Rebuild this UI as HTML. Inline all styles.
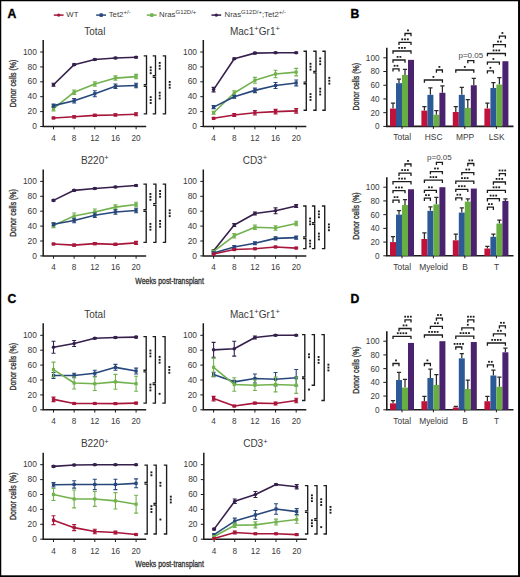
<!DOCTYPE html><html><head><meta charset="utf-8"><style>html,body{margin:0;padding:0;background:#fff;}svg{display:block;}</style></head><body>
<svg width="520" height="577" viewBox="0 0 520 577" font-family='"Liberation Sans", sans-serif' fill="#3a3a3a">
<rect x="0" y="0" width="520" height="577" fill="#fff"/>
<text x="7.40" y="17.80" font-size="12.2" text-anchor="start" font-weight="bold" fill="#000" stroke="#000" stroke-width="0.35">A</text>
<text x="350.60" y="17.80" font-size="12.2" text-anchor="start" font-weight="bold" fill="#000" stroke="#000" stroke-width="0.35">B</text>
<text x="7.40" y="302.60" font-size="12.2" text-anchor="start" font-weight="bold" fill="#000" stroke="#000" stroke-width="0.35">C</text>
<text x="350.60" y="302.60" font-size="12.2" text-anchor="start" font-weight="bold" fill="#000" stroke="#000" stroke-width="0.35">D</text>
<line x1="53.80" y1="15.1" x2="63.60" y2="15.1" stroke="#a8173b" stroke-width="1.5"/>
<circle cx="58.70" cy="15.1" r="1.7" fill="#a8173b"/>
<line x1="96.20" y1="15.1" x2="106.00" y2="15.1" stroke="#27477c" stroke-width="1.5"/>
<rect x="99.60" y="13.3" width="3.2" height="3.6" fill="#27477c"/>
<line x1="146.80" y1="15.1" x2="156.60" y2="15.1" stroke="#72b24e" stroke-width="1.5"/>
<rect x="150.20" y="13.3" width="3.2" height="3.6" fill="#72b24e"/>
<line x1="211.40" y1="15.1" x2="221.20" y2="15.1" stroke="#35204c" stroke-width="1.5"/>
<circle cx="216.30" cy="15.1" r="1.7" fill="#35204c"/>
<text x="66.30" y="17.4" font-size="7.8">WT</text>
<text x="108.70" y="17.4" font-size="7.8">Tet2<tspan font-size="6.0" dy="-3.2">+/-</tspan></text>
<text x="159.00" y="17.4" font-size="7.8">Nras<tspan font-size="6.0" dy="-3.2">G12D/+</tspan></text>
<text x="224.60" y="17.4" font-size="7.8">Nras<tspan font-size="6.0" dy="-3.2">G12D/+</tspan><tspan dy="3.2">;Tet2</tspan><tspan font-size="6.0" dy="-3.2">+/-</tspan></text>
<text x="94.80" y="34.70" font-size="10" text-anchor="middle">Total</text>
<path d="M43.20,40.00V126.50H146.20" fill="none" stroke="#1c1c1c" stroke-width="1.5"/>
<line x1="40.20" y1="126.50" x2="43.20" y2="126.50" stroke="#1c1c1c" stroke-width="1"/>
<text x="36.90" y="129.10" font-size="8.4" text-anchor="end" fill="#3a3a3a">0</text>
<line x1="40.20" y1="111.60" x2="43.20" y2="111.60" stroke="#1c1c1c" stroke-width="1"/>
<text x="36.90" y="114.20" font-size="8.4" text-anchor="end" fill="#3a3a3a">20</text>
<line x1="40.20" y1="96.70" x2="43.20" y2="96.70" stroke="#1c1c1c" stroke-width="1"/>
<text x="36.90" y="99.30" font-size="8.4" text-anchor="end" fill="#3a3a3a">40</text>
<line x1="40.20" y1="81.80" x2="43.20" y2="81.80" stroke="#1c1c1c" stroke-width="1"/>
<text x="36.90" y="84.40" font-size="8.4" text-anchor="end" fill="#3a3a3a">60</text>
<line x1="40.20" y1="66.90" x2="43.20" y2="66.90" stroke="#1c1c1c" stroke-width="1"/>
<text x="36.90" y="69.50" font-size="8.4" text-anchor="end" fill="#3a3a3a">80</text>
<line x1="40.20" y1="52.00" x2="43.20" y2="52.00" stroke="#1c1c1c" stroke-width="1"/>
<text x="36.90" y="54.60" font-size="8.4" text-anchor="end" fill="#3a3a3a">100</text>
<line x1="53.50" y1="126.50" x2="53.50" y2="129.30" stroke="#1c1c1c" stroke-width="1"/>
<text x="53.50" y="140.80" font-size="8.2" text-anchor="middle" fill="#3a3a3a">4</text>
<line x1="74.15" y1="126.50" x2="74.15" y2="129.30" stroke="#1c1c1c" stroke-width="1"/>
<text x="74.15" y="140.80" font-size="8.2" text-anchor="middle" fill="#3a3a3a">8</text>
<line x1="94.80" y1="126.50" x2="94.80" y2="129.30" stroke="#1c1c1c" stroke-width="1"/>
<text x="94.80" y="140.80" font-size="8.2" text-anchor="middle" fill="#3a3a3a">12</text>
<line x1="115.45" y1="126.50" x2="115.45" y2="129.30" stroke="#1c1c1c" stroke-width="1"/>
<text x="115.45" y="140.80" font-size="8.2" text-anchor="middle" fill="#3a3a3a">16</text>
<line x1="136.10" y1="126.50" x2="136.10" y2="129.30" stroke="#1c1c1c" stroke-width="1"/>
<text x="136.10" y="140.80" font-size="8.2" text-anchor="middle" fill="#3a3a3a">20</text>
<text transform="translate(15.60,83.50) rotate(-90)" font-size="8.8" text-anchor="middle" textLength="47.5" lengthAdjust="spacingAndGlyphs" fill="#333" stroke="#333" stroke-width="0.35">Donor cells (%)</text>
<polyline points="53.50,84.78 74.15,64.66 94.80,59.45 115.45,57.96 136.10,57.22" fill="none" stroke="#35204c" stroke-width="1.6" stroke-linejoin="round"/>
<path d="M53.50,83.29V86.27M51.50,83.29H55.50M51.50,86.27H55.50" stroke="#35204c" stroke-width="1.1" fill="none"/>
<circle cx="53.50" cy="84.78" r="1.8" fill="#35204c"/>
<path d="M74.15,63.92V65.41M72.15,63.92H76.15M72.15,65.41H76.15" stroke="#35204c" stroke-width="1.1" fill="none"/>
<circle cx="74.15" cy="64.66" r="1.8" fill="#35204c"/>
<path d="M94.80,58.71V60.20M92.80,58.71H96.80M92.80,60.20H96.80" stroke="#35204c" stroke-width="1.1" fill="none"/>
<circle cx="94.80" cy="59.45" r="1.8" fill="#35204c"/>
<path d="M115.45,57.21V58.70M113.45,57.21H117.45M113.45,58.70H117.45" stroke="#35204c" stroke-width="1.1" fill="none"/>
<circle cx="115.45" cy="57.96" r="1.8" fill="#35204c"/>
<path d="M136.10,56.47V57.96M134.10,56.47H138.10M134.10,57.96H138.10" stroke="#35204c" stroke-width="1.1" fill="none"/>
<circle cx="136.10" cy="57.22" r="1.8" fill="#35204c"/>
<polyline points="53.50,108.62 74.15,92.23 94.80,84.03 115.45,78.08 136.10,76.59" fill="none" stroke="#72b24e" stroke-width="1.6" stroke-linejoin="round"/>
<path d="M53.50,106.39V110.86M51.50,106.39H55.50M51.50,110.86H55.50" stroke="#72b24e" stroke-width="1.1" fill="none"/>
<rect x="51.90" y="107.02" width="3.2" height="3.2" fill="#72b24e"/>
<path d="M74.15,89.99V94.46M72.15,89.99H76.15M72.15,94.46H76.15" stroke="#72b24e" stroke-width="1.1" fill="none"/>
<rect x="72.55" y="90.63" width="3.2" height="3.2" fill="#72b24e"/>
<path d="M94.80,81.80V86.27M92.80,81.80H96.80M92.80,86.27H96.80" stroke="#72b24e" stroke-width="1.1" fill="none"/>
<rect x="93.20" y="82.44" width="3.2" height="3.2" fill="#72b24e"/>
<path d="M115.45,75.84V80.31M113.45,75.84H117.45M113.45,80.31H117.45" stroke="#72b24e" stroke-width="1.1" fill="none"/>
<rect x="113.85" y="76.48" width="3.2" height="3.2" fill="#72b24e"/>
<path d="M136.10,74.35V78.82M134.10,74.35H138.10M134.10,78.82H138.10" stroke="#72b24e" stroke-width="1.1" fill="none"/>
<rect x="134.50" y="74.99" width="3.2" height="3.2" fill="#72b24e"/>
<polyline points="53.50,105.64 74.15,100.80 94.80,93.72 115.45,86.27 136.10,85.53" fill="none" stroke="#27477c" stroke-width="1.6" stroke-linejoin="round"/>
<path d="M53.50,104.15V107.13M51.50,104.15H55.50M51.50,107.13H55.50" stroke="#27477c" stroke-width="1.1" fill="none"/>
<rect x="51.90" y="104.04" width="3.2" height="3.2" fill="#27477c"/>
<path d="M74.15,98.56V103.03M72.15,98.56H76.15M72.15,103.03H76.15" stroke="#27477c" stroke-width="1.1" fill="none"/>
<rect x="72.55" y="99.20" width="3.2" height="3.2" fill="#27477c"/>
<path d="M94.80,90.74V96.70M92.80,90.74H96.80M92.80,96.70H96.80" stroke="#27477c" stroke-width="1.1" fill="none"/>
<rect x="93.20" y="92.12" width="3.2" height="3.2" fill="#27477c"/>
<path d="M115.45,84.04V88.51M113.45,84.04H117.45M113.45,88.51H117.45" stroke="#27477c" stroke-width="1.1" fill="none"/>
<rect x="113.85" y="84.67" width="3.2" height="3.2" fill="#27477c"/>
<path d="M136.10,83.29V87.76M134.10,83.29H138.10M134.10,87.76H138.10" stroke="#27477c" stroke-width="1.1" fill="none"/>
<rect x="134.50" y="83.93" width="3.2" height="3.2" fill="#27477c"/>
<polyline points="53.50,117.93 74.15,116.81 94.80,115.33 115.45,114.95 136.10,114.21" fill="none" stroke="#a8173b" stroke-width="1.6" stroke-linejoin="round"/>
<path d="M53.50,117.19V118.68M51.50,117.19H55.50M51.50,118.68H55.50" stroke="#a8173b" stroke-width="1.1" fill="none"/>
<rect x="51.90" y="116.33" width="3.2" height="3.2" fill="#a8173b"/>
<path d="M74.15,115.70V117.93M72.15,115.70H76.15M72.15,117.93H76.15" stroke="#a8173b" stroke-width="1.1" fill="none"/>
<rect x="72.55" y="115.22" width="3.2" height="3.2" fill="#a8173b"/>
<path d="M94.80,114.21V116.44M92.80,114.21H96.80M92.80,116.44H96.80" stroke="#a8173b" stroke-width="1.1" fill="none"/>
<rect x="93.20" y="113.73" width="3.2" height="3.2" fill="#a8173b"/>
<path d="M115.45,113.83V116.07M113.45,113.83H117.45M113.45,116.07H117.45" stroke="#a8173b" stroke-width="1.1" fill="none"/>
<rect x="113.85" y="113.35" width="3.2" height="3.2" fill="#a8173b"/>
<path d="M136.10,112.72V115.70M134.10,112.72H138.10M134.10,115.70H138.10" stroke="#a8173b" stroke-width="1.1" fill="none"/>
<rect x="134.50" y="112.61" width="3.2" height="3.2" fill="#a8173b"/>
<path d="M143.70,55.82H146.50V84.73H143.70" fill="none" stroke="#1c1c1c" stroke-width="1.35"/>
<rect x="149.75" y="66.42" width="1.9" height="1.9" fill="#1c1c1c"/>
<rect x="149.75" y="69.32" width="1.9" height="1.9" fill="#1c1c1c"/>
<rect x="149.75" y="72.22" width="1.9" height="1.9" fill="#1c1c1c"/>
<path d="M143.70,86.33H146.50V113.81H143.70" fill="none" stroke="#1c1c1c" stroke-width="1.35"/>
<rect x="149.75" y="96.22" width="1.9" height="1.9" fill="#1c1c1c"/>
<rect x="149.75" y="99.12" width="1.9" height="1.9" fill="#1c1c1c"/>
<rect x="149.75" y="102.02" width="1.9" height="1.9" fill="#1c1c1c"/>
<path d="M152.70,55.82H155.50V75.79H152.70" fill="none" stroke="#1c1c1c" stroke-width="1.35"/>
<rect x="158.75" y="61.95" width="1.9" height="1.9" fill="#1c1c1c"/>
<rect x="158.75" y="64.85" width="1.9" height="1.9" fill="#1c1c1c"/>
<rect x="158.75" y="67.75" width="1.9" height="1.9" fill="#1c1c1c"/>
<path d="M152.70,77.39H155.50V113.81H152.70" fill="none" stroke="#1c1c1c" stroke-width="1.35"/>
<rect x="158.75" y="91.75" width="1.9" height="1.9" fill="#1c1c1c"/>
<rect x="158.75" y="94.65" width="1.9" height="1.9" fill="#1c1c1c"/>
<rect x="158.75" y="97.55" width="1.9" height="1.9" fill="#1c1c1c"/>
<path d="M162.70,55.82H165.50V113.81H162.70" fill="none" stroke="#1c1c1c" stroke-width="1.35"/>
<rect x="168.75" y="80.96" width="1.9" height="1.9" fill="#1c1c1c"/>
<rect x="168.75" y="83.86" width="1.9" height="1.9" fill="#1c1c1c"/>
<rect x="168.75" y="86.76" width="1.9" height="1.9" fill="#1c1c1c"/>
<text x="254.90" y="34.70" font-size="10" text-anchor="middle">Mac1<tspan font-size="7.6" dy="-3.7">+</tspan><tspan dy="3.7">Gr1</tspan><tspan font-size="7.6" dy="-3.7">+</tspan></text>
<path d="M203.30,40.00V126.50H306.30" fill="none" stroke="#1c1c1c" stroke-width="1.5"/>
<line x1="200.30" y1="126.50" x2="203.30" y2="126.50" stroke="#1c1c1c" stroke-width="1"/>
<text x="197.00" y="129.10" font-size="8.4" text-anchor="end" fill="#3a3a3a">0</text>
<line x1="200.30" y1="111.60" x2="203.30" y2="111.60" stroke="#1c1c1c" stroke-width="1"/>
<text x="197.00" y="114.20" font-size="8.4" text-anchor="end" fill="#3a3a3a">20</text>
<line x1="200.30" y1="96.70" x2="203.30" y2="96.70" stroke="#1c1c1c" stroke-width="1"/>
<text x="197.00" y="99.30" font-size="8.4" text-anchor="end" fill="#3a3a3a">40</text>
<line x1="200.30" y1="81.80" x2="203.30" y2="81.80" stroke="#1c1c1c" stroke-width="1"/>
<text x="197.00" y="84.40" font-size="8.4" text-anchor="end" fill="#3a3a3a">60</text>
<line x1="200.30" y1="66.90" x2="203.30" y2="66.90" stroke="#1c1c1c" stroke-width="1"/>
<text x="197.00" y="69.50" font-size="8.4" text-anchor="end" fill="#3a3a3a">80</text>
<line x1="200.30" y1="52.00" x2="203.30" y2="52.00" stroke="#1c1c1c" stroke-width="1"/>
<text x="197.00" y="54.60" font-size="8.4" text-anchor="end" fill="#3a3a3a">100</text>
<line x1="213.60" y1="126.50" x2="213.60" y2="129.30" stroke="#1c1c1c" stroke-width="1"/>
<text x="213.60" y="140.80" font-size="8.2" text-anchor="middle" fill="#3a3a3a">4</text>
<line x1="234.25" y1="126.50" x2="234.25" y2="129.30" stroke="#1c1c1c" stroke-width="1"/>
<text x="234.25" y="140.80" font-size="8.2" text-anchor="middle" fill="#3a3a3a">8</text>
<line x1="254.90" y1="126.50" x2="254.90" y2="129.30" stroke="#1c1c1c" stroke-width="1"/>
<text x="254.90" y="140.80" font-size="8.2" text-anchor="middle" fill="#3a3a3a">12</text>
<line x1="275.55" y1="126.50" x2="275.55" y2="129.30" stroke="#1c1c1c" stroke-width="1"/>
<text x="275.55" y="140.80" font-size="8.2" text-anchor="middle" fill="#3a3a3a">16</text>
<line x1="296.20" y1="126.50" x2="296.20" y2="129.30" stroke="#1c1c1c" stroke-width="1"/>
<text x="296.20" y="140.80" font-size="8.2" text-anchor="middle" fill="#3a3a3a">20</text>
<polyline points="213.60,89.62 234.25,58.70 254.90,53.12 275.55,52.75 296.20,52.75" fill="none" stroke="#35204c" stroke-width="1.6" stroke-linejoin="round"/>
<path d="M213.60,87.39V91.86M211.60,87.39H215.60M211.60,91.86H215.60" stroke="#35204c" stroke-width="1.1" fill="none"/>
<circle cx="213.60" cy="89.62" r="1.8" fill="#35204c"/>
<path d="M234.25,57.96V59.45M232.25,57.96H236.25M232.25,59.45H236.25" stroke="#35204c" stroke-width="1.1" fill="none"/>
<circle cx="234.25" cy="58.70" r="1.8" fill="#35204c"/>
<path d="M254.90,52.37V53.86M252.90,52.37H256.90M252.90,53.86H256.90" stroke="#35204c" stroke-width="1.1" fill="none"/>
<circle cx="254.90" cy="53.12" r="1.8" fill="#35204c"/>
<path d="M275.55,52.00V53.49M273.55,52.00H277.55M273.55,53.49H277.55" stroke="#35204c" stroke-width="1.1" fill="none"/>
<circle cx="275.55" cy="52.75" r="1.8" fill="#35204c"/>
<path d="M296.20,52.00V53.49M294.20,52.00H298.20M294.20,53.49H298.20" stroke="#35204c" stroke-width="1.1" fill="none"/>
<circle cx="296.20" cy="52.75" r="1.8" fill="#35204c"/>
<polyline points="213.60,112.72 234.25,92.97 254.90,80.31 275.55,73.98 296.20,72.12" fill="none" stroke="#72b24e" stroke-width="1.6" stroke-linejoin="round"/>
<path d="M213.60,111.23V114.21M211.60,111.23H215.60M211.60,114.21H215.60" stroke="#72b24e" stroke-width="1.1" fill="none"/>
<rect x="212.00" y="111.12" width="3.2" height="3.2" fill="#72b24e"/>
<path d="M234.25,90.74V95.21M232.25,90.74H236.25M232.25,95.21H236.25" stroke="#72b24e" stroke-width="1.1" fill="none"/>
<rect x="232.65" y="91.38" width="3.2" height="3.2" fill="#72b24e"/>
<path d="M254.90,77.33V83.29M252.90,77.33H256.90M252.90,83.29H256.90" stroke="#72b24e" stroke-width="1.1" fill="none"/>
<rect x="253.30" y="78.71" width="3.2" height="3.2" fill="#72b24e"/>
<path d="M275.55,70.25V77.70M273.55,70.25H277.55M273.55,77.70H277.55" stroke="#72b24e" stroke-width="1.1" fill="none"/>
<rect x="273.95" y="72.38" width="3.2" height="3.2" fill="#72b24e"/>
<path d="M296.20,68.39V75.84M294.20,68.39H298.20M294.20,75.84H298.20" stroke="#72b24e" stroke-width="1.1" fill="none"/>
<rect x="294.60" y="70.52" width="3.2" height="3.2" fill="#72b24e"/>
<polyline points="213.60,107.13 234.25,96.70 254.90,90.37 275.55,85.53 296.20,82.92" fill="none" stroke="#27477c" stroke-width="1.6" stroke-linejoin="round"/>
<path d="M213.60,105.64V108.62M211.60,105.64H215.60M211.60,108.62H215.60" stroke="#27477c" stroke-width="1.1" fill="none"/>
<rect x="212.00" y="105.53" width="3.2" height="3.2" fill="#27477c"/>
<path d="M234.25,95.21V98.19M232.25,95.21H236.25M232.25,98.19H236.25" stroke="#27477c" stroke-width="1.1" fill="none"/>
<rect x="232.65" y="95.10" width="3.2" height="3.2" fill="#27477c"/>
<path d="M254.90,88.13V92.60M252.90,88.13H256.90M252.90,92.60H256.90" stroke="#27477c" stroke-width="1.1" fill="none"/>
<rect x="253.30" y="88.77" width="3.2" height="3.2" fill="#27477c"/>
<path d="M275.55,82.55V88.51M273.55,82.55H277.55M273.55,88.51H277.55" stroke="#27477c" stroke-width="1.1" fill="none"/>
<rect x="273.95" y="83.93" width="3.2" height="3.2" fill="#27477c"/>
<path d="M296.20,79.94V85.90M294.20,79.94H298.20M294.20,85.90H298.20" stroke="#27477c" stroke-width="1.1" fill="none"/>
<rect x="294.60" y="81.32" width="3.2" height="3.2" fill="#27477c"/>
<polyline points="213.60,118.31 234.25,114.95 254.90,112.72 275.55,111.60 296.20,110.86" fill="none" stroke="#a8173b" stroke-width="1.6" stroke-linejoin="round"/>
<path d="M213.60,117.56V119.05M211.60,117.56H215.60M211.60,119.05H215.60" stroke="#a8173b" stroke-width="1.1" fill="none"/>
<rect x="212.00" y="116.71" width="3.2" height="3.2" fill="#a8173b"/>
<path d="M234.25,113.46V116.44M232.25,113.46H236.25M232.25,116.44H236.25" stroke="#a8173b" stroke-width="1.1" fill="none"/>
<rect x="232.65" y="113.35" width="3.2" height="3.2" fill="#a8173b"/>
<path d="M254.90,110.48V114.95M252.90,110.48H256.90M252.90,114.95H256.90" stroke="#a8173b" stroke-width="1.1" fill="none"/>
<rect x="253.30" y="111.12" width="3.2" height="3.2" fill="#a8173b"/>
<path d="M275.55,109.36V113.83M273.55,109.36H277.55M273.55,113.83H277.55" stroke="#a8173b" stroke-width="1.1" fill="none"/>
<rect x="273.95" y="110.00" width="3.2" height="3.2" fill="#a8173b"/>
<path d="M296.20,108.62V113.09M294.20,108.62H298.20M294.20,113.09H298.20" stroke="#a8173b" stroke-width="1.1" fill="none"/>
<rect x="294.60" y="109.26" width="3.2" height="3.2" fill="#a8173b"/>
<path d="M303.50,51.25H306.30V82.12H303.50" fill="none" stroke="#1c1c1c" stroke-width="1.35"/>
<rect x="309.55" y="62.83" width="1.9" height="1.9" fill="#1c1c1c"/>
<rect x="309.55" y="65.73" width="1.9" height="1.9" fill="#1c1c1c"/>
<rect x="309.55" y="68.63" width="1.9" height="1.9" fill="#1c1c1c"/>
<path d="M303.50,83.72H306.30V110.26H303.50" fill="none" stroke="#1c1c1c" stroke-width="1.35"/>
<rect x="309.55" y="93.14" width="1.9" height="1.9" fill="#1c1c1c"/>
<rect x="309.55" y="96.04" width="1.9" height="1.9" fill="#1c1c1c"/>
<rect x="309.55" y="98.94" width="1.9" height="1.9" fill="#1c1c1c"/>
<path d="M313.20,51.25H316.00V71.32H313.20" fill="none" stroke="#1c1c1c" stroke-width="1.35"/>
<rect x="319.25" y="57.43" width="1.9" height="1.9" fill="#1c1c1c"/>
<rect x="319.25" y="60.33" width="1.9" height="1.9" fill="#1c1c1c"/>
<rect x="319.25" y="63.23" width="1.9" height="1.9" fill="#1c1c1c"/>
<path d="M313.20,72.92H316.00V110.26H313.20" fill="none" stroke="#1c1c1c" stroke-width="1.35"/>
<rect x="319.25" y="87.73" width="1.9" height="1.9" fill="#1c1c1c"/>
<rect x="319.25" y="90.64" width="1.9" height="1.9" fill="#1c1c1c"/>
<rect x="319.25" y="93.53" width="1.9" height="1.9" fill="#1c1c1c"/>
<path d="M322.30,51.25H325.10V110.26H322.30" fill="none" stroke="#1c1c1c" stroke-width="1.35"/>
<rect x="328.35" y="76.90" width="1.9" height="1.9" fill="#1c1c1c"/>
<rect x="328.35" y="79.80" width="1.9" height="1.9" fill="#1c1c1c"/>
<rect x="328.35" y="82.70" width="1.9" height="1.9" fill="#1c1c1c"/>
<text x="94.80" y="164.10" font-size="10" text-anchor="middle">B220<tspan font-size="7.6" dy="-3.7">+</tspan></text>
<path d="M43.20,169.40V255.90H146.20" fill="none" stroke="#1c1c1c" stroke-width="1.5"/>
<line x1="40.20" y1="255.90" x2="43.20" y2="255.90" stroke="#1c1c1c" stroke-width="1"/>
<text x="36.90" y="258.50" font-size="8.4" text-anchor="end" fill="#3a3a3a">0</text>
<line x1="40.20" y1="241.00" x2="43.20" y2="241.00" stroke="#1c1c1c" stroke-width="1"/>
<text x="36.90" y="243.60" font-size="8.4" text-anchor="end" fill="#3a3a3a">20</text>
<line x1="40.20" y1="226.10" x2="43.20" y2="226.10" stroke="#1c1c1c" stroke-width="1"/>
<text x="36.90" y="228.70" font-size="8.4" text-anchor="end" fill="#3a3a3a">40</text>
<line x1="40.20" y1="211.20" x2="43.20" y2="211.20" stroke="#1c1c1c" stroke-width="1"/>
<text x="36.90" y="213.80" font-size="8.4" text-anchor="end" fill="#3a3a3a">60</text>
<line x1="40.20" y1="196.30" x2="43.20" y2="196.30" stroke="#1c1c1c" stroke-width="1"/>
<text x="36.90" y="198.90" font-size="8.4" text-anchor="end" fill="#3a3a3a">80</text>
<line x1="40.20" y1="181.40" x2="43.20" y2="181.40" stroke="#1c1c1c" stroke-width="1"/>
<text x="36.90" y="184.00" font-size="8.4" text-anchor="end" fill="#3a3a3a">100</text>
<line x1="53.50" y1="255.90" x2="53.50" y2="258.70" stroke="#1c1c1c" stroke-width="1"/>
<text x="53.50" y="270.20" font-size="8.2" text-anchor="middle" fill="#3a3a3a">4</text>
<line x1="74.15" y1="255.90" x2="74.15" y2="258.70" stroke="#1c1c1c" stroke-width="1"/>
<text x="74.15" y="270.20" font-size="8.2" text-anchor="middle" fill="#3a3a3a">8</text>
<line x1="94.80" y1="255.90" x2="94.80" y2="258.70" stroke="#1c1c1c" stroke-width="1"/>
<text x="94.80" y="270.20" font-size="8.2" text-anchor="middle" fill="#3a3a3a">12</text>
<line x1="115.45" y1="255.90" x2="115.45" y2="258.70" stroke="#1c1c1c" stroke-width="1"/>
<text x="115.45" y="270.20" font-size="8.2" text-anchor="middle" fill="#3a3a3a">16</text>
<line x1="136.10" y1="255.90" x2="136.10" y2="258.70" stroke="#1c1c1c" stroke-width="1"/>
<text x="136.10" y="270.20" font-size="8.2" text-anchor="middle" fill="#3a3a3a">20</text>
<text transform="translate(15.60,212.90) rotate(-90)" font-size="8.8" text-anchor="middle" textLength="47.5" lengthAdjust="spacingAndGlyphs" fill="#333" stroke="#333" stroke-width="0.35">Donor cells (%)</text>
<polyline points="53.50,200.40 74.15,190.34 94.80,188.48 115.45,186.99 136.10,185.50" fill="none" stroke="#35204c" stroke-width="1.6" stroke-linejoin="round"/>
<path d="M53.50,199.65V201.14M51.50,199.65H55.50M51.50,201.14H55.50" stroke="#35204c" stroke-width="1.1" fill="none"/>
<circle cx="53.50" cy="200.40" r="1.8" fill="#35204c"/>
<path d="M74.15,189.59V191.09M72.15,189.59H76.15M72.15,191.09H76.15" stroke="#35204c" stroke-width="1.1" fill="none"/>
<circle cx="74.15" cy="190.34" r="1.8" fill="#35204c"/>
<path d="M94.80,187.73V189.22M92.80,187.73H96.80M92.80,189.22H96.80" stroke="#35204c" stroke-width="1.1" fill="none"/>
<circle cx="94.80" cy="188.48" r="1.8" fill="#35204c"/>
<path d="M115.45,186.24V187.73M113.45,186.24H117.45M113.45,187.73H117.45" stroke="#35204c" stroke-width="1.1" fill="none"/>
<circle cx="115.45" cy="186.99" r="1.8" fill="#35204c"/>
<path d="M136.10,184.75V186.24M134.10,184.75H138.10M134.10,186.24H138.10" stroke="#35204c" stroke-width="1.1" fill="none"/>
<circle cx="136.10" cy="185.50" r="1.8" fill="#35204c"/>
<polyline points="53.50,225.36 74.15,216.04 94.80,211.94 115.45,207.10 136.10,204.50" fill="none" stroke="#72b24e" stroke-width="1.6" stroke-linejoin="round"/>
<path d="M53.50,223.12V227.59M51.50,223.12H55.50M51.50,227.59H55.50" stroke="#72b24e" stroke-width="1.1" fill="none"/>
<rect x="51.90" y="223.76" width="3.2" height="3.2" fill="#72b24e"/>
<path d="M74.15,213.06V219.02M72.15,213.06H76.15M72.15,219.02H76.15" stroke="#72b24e" stroke-width="1.1" fill="none"/>
<rect x="72.55" y="214.44" width="3.2" height="3.2" fill="#72b24e"/>
<path d="M94.80,208.97V214.92M92.80,208.97H96.80M92.80,214.92H96.80" stroke="#72b24e" stroke-width="1.1" fill="none"/>
<rect x="93.20" y="210.34" width="3.2" height="3.2" fill="#72b24e"/>
<path d="M115.45,204.87V209.34M113.45,204.87H117.45M113.45,209.34H117.45" stroke="#72b24e" stroke-width="1.1" fill="none"/>
<rect x="113.85" y="205.50" width="3.2" height="3.2" fill="#72b24e"/>
<path d="M136.10,202.26V206.73M134.10,202.26H138.10M134.10,206.73H138.10" stroke="#72b24e" stroke-width="1.1" fill="none"/>
<rect x="134.50" y="202.90" width="3.2" height="3.2" fill="#72b24e"/>
<polyline points="53.50,224.24 74.15,220.51 94.80,215.30 115.45,211.94 136.10,210.46" fill="none" stroke="#27477c" stroke-width="1.6" stroke-linejoin="round"/>
<path d="M53.50,222.75V225.73M51.50,222.75H55.50M51.50,225.73H55.50" stroke="#27477c" stroke-width="1.1" fill="none"/>
<rect x="51.90" y="222.64" width="3.2" height="3.2" fill="#27477c"/>
<path d="M74.15,218.28V222.75M72.15,218.28H76.15M72.15,222.75H76.15" stroke="#27477c" stroke-width="1.1" fill="none"/>
<rect x="72.55" y="218.91" width="3.2" height="3.2" fill="#27477c"/>
<path d="M94.80,213.06V217.53M92.80,213.06H96.80M92.80,217.53H96.80" stroke="#27477c" stroke-width="1.1" fill="none"/>
<rect x="93.20" y="213.70" width="3.2" height="3.2" fill="#27477c"/>
<path d="M115.45,209.71V214.18M113.45,209.71H117.45M113.45,214.18H117.45" stroke="#27477c" stroke-width="1.1" fill="none"/>
<rect x="113.85" y="210.34" width="3.2" height="3.2" fill="#27477c"/>
<path d="M136.10,208.22V212.69M134.10,208.22H138.10M134.10,212.69H138.10" stroke="#27477c" stroke-width="1.1" fill="none"/>
<rect x="134.50" y="208.86" width="3.2" height="3.2" fill="#27477c"/>
<polyline points="53.50,243.98 74.15,245.10 94.80,243.61 115.45,244.35 136.10,242.86" fill="none" stroke="#a8173b" stroke-width="1.6" stroke-linejoin="round"/>
<path d="M53.50,243.24V244.73M51.50,243.24H55.50M51.50,244.73H55.50" stroke="#a8173b" stroke-width="1.1" fill="none"/>
<rect x="51.90" y="242.38" width="3.2" height="3.2" fill="#a8173b"/>
<path d="M74.15,243.98V246.22M72.15,243.98H76.15M72.15,246.22H76.15" stroke="#a8173b" stroke-width="1.1" fill="none"/>
<rect x="72.55" y="243.50" width="3.2" height="3.2" fill="#a8173b"/>
<path d="M94.80,242.49V244.73M92.80,242.49H96.80M92.80,244.73H96.80" stroke="#a8173b" stroke-width="1.1" fill="none"/>
<rect x="93.20" y="242.01" width="3.2" height="3.2" fill="#a8173b"/>
<path d="M115.45,243.24V245.47M113.45,243.24H117.45M113.45,245.47H117.45" stroke="#a8173b" stroke-width="1.1" fill="none"/>
<rect x="113.85" y="242.75" width="3.2" height="3.2" fill="#a8173b"/>
<path d="M136.10,241.37V244.35M134.10,241.37H138.10M134.10,244.35H138.10" stroke="#a8173b" stroke-width="1.1" fill="none"/>
<rect x="134.50" y="241.26" width="3.2" height="3.2" fill="#a8173b"/>
<path d="M143.40,184.10H146.20V209.66H143.40" fill="none" stroke="#1c1c1c" stroke-width="1.35"/>
<rect x="149.45" y="193.03" width="1.9" height="1.9" fill="#1c1c1c"/>
<rect x="149.45" y="195.93" width="1.9" height="1.9" fill="#1c1c1c"/>
<rect x="149.45" y="198.83" width="1.9" height="1.9" fill="#1c1c1c"/>
<path d="M143.40,211.26H146.20V242.36H143.40" fill="none" stroke="#1c1c1c" stroke-width="1.35"/>
<rect x="149.45" y="222.96" width="1.9" height="1.9" fill="#1c1c1c"/>
<rect x="149.45" y="225.86" width="1.9" height="1.9" fill="#1c1c1c"/>
<rect x="149.45" y="228.76" width="1.9" height="1.9" fill="#1c1c1c"/>
<path d="M153.10,184.10H155.90V203.69H153.10" fill="none" stroke="#1c1c1c" stroke-width="1.35"/>
<rect x="159.15" y="190.05" width="1.9" height="1.9" fill="#1c1c1c"/>
<rect x="159.15" y="192.95" width="1.9" height="1.9" fill="#1c1c1c"/>
<rect x="159.15" y="195.85" width="1.9" height="1.9" fill="#1c1c1c"/>
<path d="M153.10,205.30H155.90V242.36H153.10" fill="none" stroke="#1c1c1c" stroke-width="1.35"/>
<rect x="159.15" y="219.98" width="1.9" height="1.9" fill="#1c1c1c"/>
<rect x="159.15" y="222.88" width="1.9" height="1.9" fill="#1c1c1c"/>
<rect x="159.15" y="225.78" width="1.9" height="1.9" fill="#1c1c1c"/>
<path d="M162.70,184.10H165.50V242.36H162.70" fill="none" stroke="#1c1c1c" stroke-width="1.35"/>
<rect x="168.75" y="209.38" width="1.9" height="1.9" fill="#1c1c1c"/>
<rect x="168.75" y="212.28" width="1.9" height="1.9" fill="#1c1c1c"/>
<rect x="168.75" y="215.18" width="1.9" height="1.9" fill="#1c1c1c"/>
<text x="254.90" y="164.10" font-size="10" text-anchor="middle">CD3<tspan font-size="7.6" dy="-3.7">+</tspan></text>
<path d="M203.30,169.40V255.90H306.30" fill="none" stroke="#1c1c1c" stroke-width="1.5"/>
<line x1="200.30" y1="255.90" x2="203.30" y2="255.90" stroke="#1c1c1c" stroke-width="1"/>
<text x="197.00" y="258.50" font-size="8.4" text-anchor="end" fill="#3a3a3a">0</text>
<line x1="200.30" y1="241.00" x2="203.30" y2="241.00" stroke="#1c1c1c" stroke-width="1"/>
<text x="197.00" y="243.60" font-size="8.4" text-anchor="end" fill="#3a3a3a">20</text>
<line x1="200.30" y1="226.10" x2="203.30" y2="226.10" stroke="#1c1c1c" stroke-width="1"/>
<text x="197.00" y="228.70" font-size="8.4" text-anchor="end" fill="#3a3a3a">40</text>
<line x1="200.30" y1="211.20" x2="203.30" y2="211.20" stroke="#1c1c1c" stroke-width="1"/>
<text x="197.00" y="213.80" font-size="8.4" text-anchor="end" fill="#3a3a3a">60</text>
<line x1="200.30" y1="196.30" x2="203.30" y2="196.30" stroke="#1c1c1c" stroke-width="1"/>
<text x="197.00" y="198.90" font-size="8.4" text-anchor="end" fill="#3a3a3a">80</text>
<line x1="200.30" y1="181.40" x2="203.30" y2="181.40" stroke="#1c1c1c" stroke-width="1"/>
<text x="197.00" y="184.00" font-size="8.4" text-anchor="end" fill="#3a3a3a">100</text>
<line x1="213.60" y1="255.90" x2="213.60" y2="258.70" stroke="#1c1c1c" stroke-width="1"/>
<text x="213.60" y="270.20" font-size="8.2" text-anchor="middle" fill="#3a3a3a">4</text>
<line x1="234.25" y1="255.90" x2="234.25" y2="258.70" stroke="#1c1c1c" stroke-width="1"/>
<text x="234.25" y="270.20" font-size="8.2" text-anchor="middle" fill="#3a3a3a">8</text>
<line x1="254.90" y1="255.90" x2="254.90" y2="258.70" stroke="#1c1c1c" stroke-width="1"/>
<text x="254.90" y="270.20" font-size="8.2" text-anchor="middle" fill="#3a3a3a">12</text>
<line x1="275.55" y1="255.90" x2="275.55" y2="258.70" stroke="#1c1c1c" stroke-width="1"/>
<text x="275.55" y="270.20" font-size="8.2" text-anchor="middle" fill="#3a3a3a">16</text>
<line x1="296.20" y1="255.90" x2="296.20" y2="258.70" stroke="#1c1c1c" stroke-width="1"/>
<text x="296.20" y="270.20" font-size="8.2" text-anchor="middle" fill="#3a3a3a">20</text>
<polyline points="213.60,250.69 234.25,224.98 254.90,213.44 275.55,210.83 296.20,205.99" fill="none" stroke="#35204c" stroke-width="1.6" stroke-linejoin="round"/>
<path d="M213.60,249.94V251.43M211.60,249.94H215.60M211.60,251.43H215.60" stroke="#35204c" stroke-width="1.1" fill="none"/>
<circle cx="213.60" cy="250.69" r="1.8" fill="#35204c"/>
<path d="M234.25,223.49V226.47M232.25,223.49H236.25M232.25,226.47H236.25" stroke="#35204c" stroke-width="1.1" fill="none"/>
<circle cx="234.25" cy="224.98" r="1.8" fill="#35204c"/>
<path d="M254.90,211.94V214.93M252.90,211.94H256.90M252.90,214.93H256.90" stroke="#35204c" stroke-width="1.1" fill="none"/>
<circle cx="254.90" cy="213.44" r="1.8" fill="#35204c"/>
<path d="M275.55,207.85V213.81M273.55,207.85H277.55M273.55,213.81H277.55" stroke="#35204c" stroke-width="1.1" fill="none"/>
<circle cx="275.55" cy="210.83" r="1.8" fill="#35204c"/>
<path d="M296.20,204.50V207.48M294.20,204.50H298.20M294.20,207.48H298.20" stroke="#35204c" stroke-width="1.1" fill="none"/>
<circle cx="296.20" cy="205.99" r="1.8" fill="#35204c"/>
<polyline points="213.60,251.43 234.25,235.78 254.90,227.22 275.55,227.96 296.20,223.49" fill="none" stroke="#72b24e" stroke-width="1.6" stroke-linejoin="round"/>
<path d="M213.60,250.69V252.18M211.60,250.69H215.60M211.60,252.18H215.60" stroke="#72b24e" stroke-width="1.1" fill="none"/>
<rect x="212.00" y="249.83" width="3.2" height="3.2" fill="#72b24e"/>
<path d="M234.25,233.55V238.02M232.25,233.55H236.25M232.25,238.02H236.25" stroke="#72b24e" stroke-width="1.1" fill="none"/>
<rect x="232.65" y="234.19" width="3.2" height="3.2" fill="#72b24e"/>
<path d="M254.90,224.98V229.45M252.90,224.98H256.90M252.90,229.45H256.90" stroke="#72b24e" stroke-width="1.1" fill="none"/>
<rect x="253.30" y="225.62" width="3.2" height="3.2" fill="#72b24e"/>
<path d="M275.55,225.73V230.20M273.55,225.73H277.55M273.55,230.20H277.55" stroke="#72b24e" stroke-width="1.1" fill="none"/>
<rect x="273.95" y="226.36" width="3.2" height="3.2" fill="#72b24e"/>
<path d="M296.20,221.26V225.73M294.20,221.26H298.20M294.20,225.73H298.20" stroke="#72b24e" stroke-width="1.1" fill="none"/>
<rect x="294.60" y="221.89" width="3.2" height="3.2" fill="#72b24e"/>
<polyline points="213.60,252.92 234.25,246.96 254.90,243.24 275.55,238.39 296.20,237.65" fill="none" stroke="#27477c" stroke-width="1.6" stroke-linejoin="round"/>
<path d="M213.60,252.18V253.67M211.60,252.18H215.60M211.60,253.67H215.60" stroke="#27477c" stroke-width="1.1" fill="none"/>
<rect x="212.00" y="251.32" width="3.2" height="3.2" fill="#27477c"/>
<path d="M234.25,245.47V248.45M232.25,245.47H236.25M232.25,248.45H236.25" stroke="#27477c" stroke-width="1.1" fill="none"/>
<rect x="232.65" y="245.36" width="3.2" height="3.2" fill="#27477c"/>
<path d="M254.90,241.75V244.73M252.90,241.75H256.90M252.90,244.73H256.90" stroke="#27477c" stroke-width="1.1" fill="none"/>
<rect x="253.30" y="241.64" width="3.2" height="3.2" fill="#27477c"/>
<path d="M275.55,236.90V239.88M273.55,236.90H277.55M273.55,239.88H277.55" stroke="#27477c" stroke-width="1.1" fill="none"/>
<rect x="273.95" y="236.79" width="3.2" height="3.2" fill="#27477c"/>
<path d="M296.20,236.16V239.14M294.20,236.16H298.20M294.20,239.14H298.20" stroke="#27477c" stroke-width="1.1" fill="none"/>
<rect x="294.60" y="236.05" width="3.2" height="3.2" fill="#27477c"/>
<polyline points="213.60,254.04 234.25,249.57 254.90,248.82 275.55,246.96 296.20,248.08" fill="none" stroke="#a8173b" stroke-width="1.6" stroke-linejoin="round"/>
<path d="M213.60,253.29V254.78M211.60,253.29H215.60M211.60,254.78H215.60" stroke="#a8173b" stroke-width="1.1" fill="none"/>
<rect x="212.00" y="252.44" width="3.2" height="3.2" fill="#a8173b"/>
<path d="M234.25,248.82V250.31M232.25,248.82H236.25M232.25,250.31H236.25" stroke="#a8173b" stroke-width="1.1" fill="none"/>
<rect x="232.65" y="247.97" width="3.2" height="3.2" fill="#a8173b"/>
<path d="M254.90,248.08V249.57M252.90,248.08H256.90M252.90,249.57H256.90" stroke="#a8173b" stroke-width="1.1" fill="none"/>
<rect x="253.30" y="247.22" width="3.2" height="3.2" fill="#a8173b"/>
<path d="M275.55,246.22V247.71M273.55,246.22H277.55M273.55,247.71H277.55" stroke="#a8173b" stroke-width="1.1" fill="none"/>
<rect x="273.95" y="245.36" width="3.2" height="3.2" fill="#a8173b"/>
<path d="M296.20,247.33V248.82M294.20,247.33H298.20M294.20,248.82H298.20" stroke="#a8173b" stroke-width="1.1" fill="none"/>
<rect x="294.60" y="246.48" width="3.2" height="3.2" fill="#a8173b"/>
<path d="M303.10,205.99H305.90V236.85H303.10" fill="none" stroke="#1c1c1c" stroke-width="1.35"/>
<rect x="309.15" y="217.57" width="1.9" height="1.9" fill="#1c1c1c"/>
<rect x="309.15" y="220.47" width="1.9" height="1.9" fill="#1c1c1c"/>
<rect x="309.15" y="223.37" width="1.9" height="1.9" fill="#1c1c1c"/>
<path d="M303.10,238.45H305.90V248.68H303.10" fill="none" stroke="#1c1c1c" stroke-width="1.35"/>
<rect x="309.15" y="239.71" width="1.9" height="1.9" fill="#1c1c1c"/>
<rect x="309.15" y="242.61" width="1.9" height="1.9" fill="#1c1c1c"/>
<rect x="309.15" y="245.51" width="1.9" height="1.9" fill="#1c1c1c"/>
<path d="M311.90,205.99H314.70V222.69H311.90" fill="none" stroke="#1c1c1c" stroke-width="1.35"/>
<rect x="317.95" y="210.49" width="1.9" height="1.9" fill="#1c1c1c"/>
<rect x="317.95" y="213.39" width="1.9" height="1.9" fill="#1c1c1c"/>
<rect x="317.95" y="216.29" width="1.9" height="1.9" fill="#1c1c1c"/>
<path d="M311.90,224.29H314.70V248.68H311.90" fill="none" stroke="#1c1c1c" stroke-width="1.35"/>
<rect x="317.95" y="232.64" width="1.9" height="1.9" fill="#1c1c1c"/>
<rect x="317.95" y="235.54" width="1.9" height="1.9" fill="#1c1c1c"/>
<rect x="317.95" y="238.44" width="1.9" height="1.9" fill="#1c1c1c"/>
<path d="M321.90,205.99H324.70V248.68H321.90" fill="none" stroke="#1c1c1c" stroke-width="1.35"/>
<rect x="327.95" y="223.48" width="1.9" height="1.9" fill="#1c1c1c"/>
<rect x="327.95" y="226.38" width="1.9" height="1.9" fill="#1c1c1c"/>
<rect x="327.95" y="229.28" width="1.9" height="1.9" fill="#1c1c1c"/>
<text x="169.6" y="283.8" font-size="9.6" fill="#333" stroke="#333" stroke-width="0.35" text-anchor="middle" textLength="68.5" lengthAdjust="spacingAndGlyphs">Weeks post-transplant</text>
<text x="94.80" y="318.00" font-size="10" text-anchor="middle">Total</text>
<path d="M43.20,323.30V409.80H146.20" fill="none" stroke="#1c1c1c" stroke-width="1.5"/>
<line x1="40.20" y1="409.80" x2="43.20" y2="409.80" stroke="#1c1c1c" stroke-width="1"/>
<text x="36.90" y="412.40" font-size="8.4" text-anchor="end" fill="#3a3a3a">0</text>
<line x1="40.20" y1="394.90" x2="43.20" y2="394.90" stroke="#1c1c1c" stroke-width="1"/>
<text x="36.90" y="397.50" font-size="8.4" text-anchor="end" fill="#3a3a3a">20</text>
<line x1="40.20" y1="380.00" x2="43.20" y2="380.00" stroke="#1c1c1c" stroke-width="1"/>
<text x="36.90" y="382.60" font-size="8.4" text-anchor="end" fill="#3a3a3a">40</text>
<line x1="40.20" y1="365.10" x2="43.20" y2="365.10" stroke="#1c1c1c" stroke-width="1"/>
<text x="36.90" y="367.70" font-size="8.4" text-anchor="end" fill="#3a3a3a">60</text>
<line x1="40.20" y1="350.20" x2="43.20" y2="350.20" stroke="#1c1c1c" stroke-width="1"/>
<text x="36.90" y="352.80" font-size="8.4" text-anchor="end" fill="#3a3a3a">80</text>
<line x1="40.20" y1="335.30" x2="43.20" y2="335.30" stroke="#1c1c1c" stroke-width="1"/>
<text x="36.90" y="337.90" font-size="8.4" text-anchor="end" fill="#3a3a3a">100</text>
<line x1="53.50" y1="409.80" x2="53.50" y2="412.60" stroke="#1c1c1c" stroke-width="1"/>
<text x="53.50" y="424.10" font-size="8.2" text-anchor="middle" fill="#3a3a3a">4</text>
<line x1="74.15" y1="409.80" x2="74.15" y2="412.60" stroke="#1c1c1c" stroke-width="1"/>
<text x="74.15" y="424.10" font-size="8.2" text-anchor="middle" fill="#3a3a3a">8</text>
<line x1="94.80" y1="409.80" x2="94.80" y2="412.60" stroke="#1c1c1c" stroke-width="1"/>
<text x="94.80" y="424.10" font-size="8.2" text-anchor="middle" fill="#3a3a3a">12</text>
<line x1="115.45" y1="409.80" x2="115.45" y2="412.60" stroke="#1c1c1c" stroke-width="1"/>
<text x="115.45" y="424.10" font-size="8.2" text-anchor="middle" fill="#3a3a3a">16</text>
<line x1="136.10" y1="409.80" x2="136.10" y2="412.60" stroke="#1c1c1c" stroke-width="1"/>
<text x="136.10" y="424.10" font-size="8.2" text-anchor="middle" fill="#3a3a3a">20</text>
<text transform="translate(15.60,366.80) rotate(-90)" font-size="8.8" text-anchor="middle" textLength="47.5" lengthAdjust="spacingAndGlyphs" fill="#333" stroke="#333" stroke-width="0.35">Donor cells (%)</text>
<polyline points="53.50,347.22 74.15,343.50 94.80,338.28 115.45,337.54 136.10,337.16" fill="none" stroke="#35204c" stroke-width="1.6" stroke-linejoin="round"/>
<path d="M53.50,341.26V353.18M51.50,341.26H55.50M51.50,353.18H55.50" stroke="#35204c" stroke-width="1.1" fill="none"/>
<circle cx="53.50" cy="347.22" r="1.8" fill="#35204c"/>
<path d="M74.15,340.51V346.48M72.15,340.51H76.15M72.15,346.48H76.15" stroke="#35204c" stroke-width="1.1" fill="none"/>
<circle cx="74.15" cy="343.50" r="1.8" fill="#35204c"/>
<path d="M94.80,337.54V339.03M92.80,337.54H96.80M92.80,339.03H96.80" stroke="#35204c" stroke-width="1.1" fill="none"/>
<circle cx="94.80" cy="338.28" r="1.8" fill="#35204c"/>
<path d="M115.45,336.79V338.28M113.45,336.79H117.45M113.45,338.28H117.45" stroke="#35204c" stroke-width="1.1" fill="none"/>
<circle cx="115.45" cy="337.54" r="1.8" fill="#35204c"/>
<path d="M136.10,336.42V337.91M134.10,336.42H138.10M134.10,337.91H138.10" stroke="#35204c" stroke-width="1.1" fill="none"/>
<circle cx="136.10" cy="337.16" r="1.8" fill="#35204c"/>
<polyline points="53.50,375.53 74.15,375.53 94.80,373.30 115.45,367.34 136.10,371.06" fill="none" stroke="#27477c" stroke-width="1.6" stroke-linejoin="round"/>
<path d="M53.50,372.55V378.51M51.50,372.55H55.50M51.50,378.51H55.50" stroke="#27477c" stroke-width="1.1" fill="none"/>
<rect x="51.90" y="373.93" width="3.2" height="3.2" fill="#27477c"/>
<path d="M74.15,373.30V377.77M72.15,373.30H76.15M72.15,377.77H76.15" stroke="#27477c" stroke-width="1.1" fill="none"/>
<rect x="72.55" y="373.93" width="3.2" height="3.2" fill="#27477c"/>
<path d="M94.80,370.31V376.28M92.80,370.31H96.80M92.80,376.28H96.80" stroke="#27477c" stroke-width="1.1" fill="none"/>
<rect x="93.20" y="371.69" width="3.2" height="3.2" fill="#27477c"/>
<path d="M115.45,364.36V370.32M113.45,364.36H117.45M113.45,370.32H117.45" stroke="#27477c" stroke-width="1.1" fill="none"/>
<rect x="113.85" y="365.74" width="3.2" height="3.2" fill="#27477c"/>
<path d="M136.10,368.08V374.04M134.10,368.08H138.10M134.10,374.04H138.10" stroke="#27477c" stroke-width="1.1" fill="none"/>
<rect x="134.50" y="369.46" width="3.2" height="3.2" fill="#27477c"/>
<polyline points="53.50,369.57 74.15,382.98 94.80,383.73 115.45,381.86 136.10,383.73" fill="none" stroke="#72b24e" stroke-width="1.6" stroke-linejoin="round"/>
<path d="M53.50,362.12V377.02M51.50,362.12H55.50M51.50,377.02H55.50" stroke="#72b24e" stroke-width="1.1" fill="none"/>
<rect x="51.90" y="367.97" width="3.2" height="3.2" fill="#72b24e"/>
<path d="M74.15,377.02V388.94M72.15,377.02H76.15M72.15,388.94H76.15" stroke="#72b24e" stroke-width="1.1" fill="none"/>
<rect x="72.55" y="381.38" width="3.2" height="3.2" fill="#72b24e"/>
<path d="M94.80,377.02V390.43M92.80,377.02H96.80M92.80,390.43H96.80" stroke="#72b24e" stroke-width="1.1" fill="none"/>
<rect x="93.20" y="382.12" width="3.2" height="3.2" fill="#72b24e"/>
<path d="M115.45,374.41V389.31M113.45,374.41H117.45M113.45,389.31H117.45" stroke="#72b24e" stroke-width="1.1" fill="none"/>
<rect x="113.85" y="380.26" width="3.2" height="3.2" fill="#72b24e"/>
<path d="M136.10,376.28V391.18M134.10,376.28H138.10M134.10,391.18H138.10" stroke="#72b24e" stroke-width="1.1" fill="none"/>
<rect x="134.50" y="382.12" width="3.2" height="3.2" fill="#72b24e"/>
<polyline points="53.50,399.37 74.15,403.47 94.80,403.47 115.45,403.62 136.10,403.10" fill="none" stroke="#a8173b" stroke-width="1.6" stroke-linejoin="round"/>
<path d="M53.50,397.13V401.61M51.50,397.13H55.50M51.50,401.61H55.50" stroke="#a8173b" stroke-width="1.1" fill="none"/>
<rect x="51.90" y="397.77" width="3.2" height="3.2" fill="#a8173b"/>
<path d="M74.15,402.72V404.21M72.15,402.72H76.15M72.15,404.21H76.15" stroke="#a8173b" stroke-width="1.1" fill="none"/>
<rect x="72.55" y="401.87" width="3.2" height="3.2" fill="#a8173b"/>
<path d="M94.80,402.72V404.21M92.80,402.72H96.80M92.80,404.21H96.80" stroke="#a8173b" stroke-width="1.1" fill="none"/>
<rect x="93.20" y="401.87" width="3.2" height="3.2" fill="#a8173b"/>
<path d="M115.45,402.87V404.36M113.45,402.87H117.45M113.45,404.36H117.45" stroke="#a8173b" stroke-width="1.1" fill="none"/>
<rect x="113.85" y="402.02" width="3.2" height="3.2" fill="#a8173b"/>
<path d="M136.10,402.35V403.84M134.10,402.35H138.10M134.10,403.84H138.10" stroke="#a8173b" stroke-width="1.1" fill="none"/>
<rect x="134.50" y="401.50" width="3.2" height="3.2" fill="#a8173b"/>
<path d="M143.40,336.66H146.20V370.26H143.40" fill="none" stroke="#1c1c1c" stroke-width="1.35"/>
<rect x="149.45" y="349.61" width="1.9" height="1.9" fill="#1c1c1c"/>
<rect x="149.45" y="352.51" width="1.9" height="1.9" fill="#1c1c1c"/>
<rect x="149.45" y="355.41" width="1.9" height="1.9" fill="#1c1c1c"/>
<path d="M143.40,371.86H146.20V403.10H143.40" fill="none" stroke="#1c1c1c" stroke-width="1.35"/>
<rect x="149.45" y="383.63" width="1.9" height="1.9" fill="#1c1c1c"/>
<rect x="149.45" y="386.53" width="1.9" height="1.9" fill="#1c1c1c"/>
<rect x="149.45" y="389.43" width="1.9" height="1.9" fill="#1c1c1c"/>
<path d="M152.60,336.66H155.40V382.93H152.60" fill="none" stroke="#1c1c1c" stroke-width="1.35"/>
<rect x="158.65" y="355.94" width="1.9" height="1.9" fill="#1c1c1c"/>
<rect x="158.65" y="358.84" width="1.9" height="1.9" fill="#1c1c1c"/>
<rect x="158.65" y="361.74" width="1.9" height="1.9" fill="#1c1c1c"/>
<path d="M152.60,384.53H155.40V403.10H152.60" fill="none" stroke="#1c1c1c" stroke-width="1.35"/>
<rect x="158.65" y="392.86" width="1.9" height="1.9" fill="#1c1c1c"/>
<path d="M162.30,336.66H165.10V403.10H162.30" fill="none" stroke="#1c1c1c" stroke-width="1.35"/>
<rect x="168.35" y="366.03" width="1.9" height="1.9" fill="#1c1c1c"/>
<rect x="168.35" y="368.93" width="1.9" height="1.9" fill="#1c1c1c"/>
<rect x="168.35" y="371.83" width="1.9" height="1.9" fill="#1c1c1c"/>
<text x="254.90" y="318.00" font-size="10" text-anchor="middle">Mac1<tspan font-size="7.6" dy="-3.7">+</tspan><tspan dy="3.7">Gr1</tspan><tspan font-size="7.6" dy="-3.7">+</tspan></text>
<path d="M203.30,323.30V409.80H306.30" fill="none" stroke="#1c1c1c" stroke-width="1.5"/>
<line x1="200.30" y1="409.80" x2="203.30" y2="409.80" stroke="#1c1c1c" stroke-width="1"/>
<text x="197.00" y="412.40" font-size="8.4" text-anchor="end" fill="#3a3a3a">0</text>
<line x1="200.30" y1="394.90" x2="203.30" y2="394.90" stroke="#1c1c1c" stroke-width="1"/>
<text x="197.00" y="397.50" font-size="8.4" text-anchor="end" fill="#3a3a3a">20</text>
<line x1="200.30" y1="380.00" x2="203.30" y2="380.00" stroke="#1c1c1c" stroke-width="1"/>
<text x="197.00" y="382.60" font-size="8.4" text-anchor="end" fill="#3a3a3a">40</text>
<line x1="200.30" y1="365.10" x2="203.30" y2="365.10" stroke="#1c1c1c" stroke-width="1"/>
<text x="197.00" y="367.70" font-size="8.4" text-anchor="end" fill="#3a3a3a">60</text>
<line x1="200.30" y1="350.20" x2="203.30" y2="350.20" stroke="#1c1c1c" stroke-width="1"/>
<text x="197.00" y="352.80" font-size="8.4" text-anchor="end" fill="#3a3a3a">80</text>
<line x1="200.30" y1="335.30" x2="203.30" y2="335.30" stroke="#1c1c1c" stroke-width="1"/>
<text x="197.00" y="337.90" font-size="8.4" text-anchor="end" fill="#3a3a3a">100</text>
<line x1="213.60" y1="409.80" x2="213.60" y2="412.60" stroke="#1c1c1c" stroke-width="1"/>
<text x="213.60" y="424.10" font-size="8.2" text-anchor="middle" fill="#3a3a3a">4</text>
<line x1="234.25" y1="409.80" x2="234.25" y2="412.60" stroke="#1c1c1c" stroke-width="1"/>
<text x="234.25" y="424.10" font-size="8.2" text-anchor="middle" fill="#3a3a3a">8</text>
<line x1="254.90" y1="409.80" x2="254.90" y2="412.60" stroke="#1c1c1c" stroke-width="1"/>
<text x="254.90" y="424.10" font-size="8.2" text-anchor="middle" fill="#3a3a3a">12</text>
<line x1="275.55" y1="409.80" x2="275.55" y2="412.60" stroke="#1c1c1c" stroke-width="1"/>
<text x="275.55" y="424.10" font-size="8.2" text-anchor="middle" fill="#3a3a3a">16</text>
<line x1="296.20" y1="409.80" x2="296.20" y2="412.60" stroke="#1c1c1c" stroke-width="1"/>
<text x="296.20" y="424.10" font-size="8.2" text-anchor="middle" fill="#3a3a3a">20</text>
<polyline points="213.60,349.83 234.25,348.71 254.90,337.54 275.55,335.30 296.20,335.30" fill="none" stroke="#35204c" stroke-width="1.6" stroke-linejoin="round"/>
<path d="M213.60,342.38V357.28M211.60,342.38H215.60M211.60,357.28H215.60" stroke="#35204c" stroke-width="1.1" fill="none"/>
<circle cx="213.60" cy="349.83" r="1.8" fill="#35204c"/>
<path d="M234.25,341.26V356.16M232.25,341.26H236.25M232.25,356.16H236.25" stroke="#35204c" stroke-width="1.1" fill="none"/>
<circle cx="234.25" cy="348.71" r="1.8" fill="#35204c"/>
<path d="M254.90,336.05V339.03M252.90,336.05H256.90M252.90,339.03H256.90" stroke="#35204c" stroke-width="1.1" fill="none"/>
<circle cx="254.90" cy="337.54" r="1.8" fill="#35204c"/>
<path d="M275.55,334.56V336.05M273.55,334.56H277.55M273.55,336.05H277.55" stroke="#35204c" stroke-width="1.1" fill="none"/>
<circle cx="275.55" cy="335.30" r="1.8" fill="#35204c"/>
<path d="M296.20,334.56V336.05M294.20,334.56H298.20M294.20,336.05H298.20" stroke="#35204c" stroke-width="1.1" fill="none"/>
<circle cx="296.20" cy="335.30" r="1.8" fill="#35204c"/>
<polyline points="213.60,374.41 234.25,381.86 254.90,378.51 275.55,379.25 296.20,377.76" fill="none" stroke="#27477c" stroke-width="1.6" stroke-linejoin="round"/>
<path d="M213.60,372.18V376.65M211.60,372.18H215.60M211.60,376.65H215.60" stroke="#27477c" stroke-width="1.1" fill="none"/>
<rect x="212.00" y="372.81" width="3.2" height="3.2" fill="#27477c"/>
<path d="M234.25,380.37V383.35M232.25,380.37H236.25M232.25,383.35H236.25" stroke="#27477c" stroke-width="1.1" fill="none"/>
<rect x="232.65" y="380.26" width="3.2" height="3.2" fill="#27477c"/>
<path d="M254.90,374.04V382.98M252.90,374.04H256.90M252.90,382.98H256.90" stroke="#27477c" stroke-width="1.1" fill="none"/>
<rect x="253.30" y="376.91" width="3.2" height="3.2" fill="#27477c"/>
<path d="M275.55,372.55V385.96M273.55,372.55H277.55M273.55,385.96H277.55" stroke="#27477c" stroke-width="1.1" fill="none"/>
<rect x="273.95" y="377.65" width="3.2" height="3.2" fill="#27477c"/>
<path d="M296.20,369.57V385.96M294.20,369.57H298.20M294.20,385.96H298.20" stroke="#27477c" stroke-width="1.1" fill="none"/>
<rect x="294.60" y="376.16" width="3.2" height="3.2" fill="#27477c"/>
<polyline points="213.60,367.34 234.25,384.47 254.90,385.22 275.55,384.47 296.20,385.22" fill="none" stroke="#72b24e" stroke-width="1.6" stroke-linejoin="round"/>
<path d="M213.60,358.40V376.28M211.60,358.40H215.60M211.60,376.28H215.60" stroke="#72b24e" stroke-width="1.1" fill="none"/>
<rect x="212.00" y="365.74" width="3.2" height="3.2" fill="#72b24e"/>
<path d="M234.25,377.77V391.18M232.25,377.77H236.25M232.25,391.18H236.25" stroke="#72b24e" stroke-width="1.1" fill="none"/>
<rect x="232.65" y="382.87" width="3.2" height="3.2" fill="#72b24e"/>
<path d="M254.90,380.00V390.43M252.90,380.00H256.90M252.90,390.43H256.90" stroke="#72b24e" stroke-width="1.1" fill="none"/>
<rect x="253.30" y="383.62" width="3.2" height="3.2" fill="#72b24e"/>
<path d="M275.55,377.02V391.92M273.55,377.02H277.55M273.55,391.92H277.55" stroke="#72b24e" stroke-width="1.1" fill="none"/>
<rect x="273.95" y="382.87" width="3.2" height="3.2" fill="#72b24e"/>
<path d="M296.20,377.02V393.41M294.20,377.02H298.20M294.20,393.41H298.20" stroke="#72b24e" stroke-width="1.1" fill="none"/>
<rect x="294.60" y="383.62" width="3.2" height="3.2" fill="#72b24e"/>
<polyline points="213.60,398.62 234.25,406.07 254.90,403.10 275.55,403.47 296.20,400.49" fill="none" stroke="#a8173b" stroke-width="1.6" stroke-linejoin="round"/>
<path d="M213.60,396.39V400.86M211.60,396.39H215.60M211.60,400.86H215.60" stroke="#a8173b" stroke-width="1.1" fill="none"/>
<rect x="212.00" y="397.02" width="3.2" height="3.2" fill="#a8173b"/>
<path d="M234.25,405.33V406.82M232.25,405.33H236.25M232.25,406.82H236.25" stroke="#a8173b" stroke-width="1.1" fill="none"/>
<rect x="232.65" y="404.47" width="3.2" height="3.2" fill="#a8173b"/>
<path d="M254.90,402.35V403.84M252.90,402.35H256.90M252.90,403.84H256.90" stroke="#a8173b" stroke-width="1.1" fill="none"/>
<rect x="253.30" y="401.50" width="3.2" height="3.2" fill="#a8173b"/>
<path d="M275.55,401.98V404.96M273.55,401.98H277.55M273.55,404.96H277.55" stroke="#a8173b" stroke-width="1.1" fill="none"/>
<rect x="273.95" y="401.87" width="3.2" height="3.2" fill="#a8173b"/>
<path d="M296.20,398.25V402.72M294.20,398.25H298.20M294.20,402.72H298.20" stroke="#a8173b" stroke-width="1.1" fill="none"/>
<rect x="294.60" y="398.89" width="3.2" height="3.2" fill="#a8173b"/>
<path d="M302.00,334.60H304.80V376.96H302.00" fill="none" stroke="#1c1c1c" stroke-width="1.35"/>
<rect x="308.05" y="353.38" width="1.9" height="1.9" fill="#1c1c1c"/>
<rect x="308.05" y="356.28" width="1.9" height="1.9" fill="#1c1c1c"/>
<path d="M302.00,378.56H304.80V400.49H302.00" fill="none" stroke="#1c1c1c" stroke-width="1.35"/>
<rect x="308.05" y="388.58" width="1.9" height="1.9" fill="#1c1c1c"/>
<path d="M311.60,334.60H314.40V385.22H311.60" fill="none" stroke="#1c1c1c" stroke-width="1.35"/>
<rect x="317.65" y="356.06" width="1.9" height="1.9" fill="#1c1c1c"/>
<rect x="317.65" y="358.96" width="1.9" height="1.9" fill="#1c1c1c"/>
<rect x="317.65" y="361.86" width="1.9" height="1.9" fill="#1c1c1c"/>
<path d="M321.40,334.60H324.20V400.49H321.40" fill="none" stroke="#1c1c1c" stroke-width="1.35"/>
<rect x="327.45" y="363.69" width="1.9" height="1.9" fill="#1c1c1c"/>
<rect x="327.45" y="366.59" width="1.9" height="1.9" fill="#1c1c1c"/>
<rect x="327.45" y="369.49" width="1.9" height="1.9" fill="#1c1c1c"/>
<text x="94.80" y="447.40" font-size="10" text-anchor="middle">B220<tspan font-size="7.6" dy="-3.7">+</tspan></text>
<path d="M43.20,452.70V539.20H146.20" fill="none" stroke="#1c1c1c" stroke-width="1.5"/>
<line x1="40.20" y1="539.20" x2="43.20" y2="539.20" stroke="#1c1c1c" stroke-width="1"/>
<text x="36.90" y="541.80" font-size="8.4" text-anchor="end" fill="#3a3a3a">0</text>
<line x1="40.20" y1="524.30" x2="43.20" y2="524.30" stroke="#1c1c1c" stroke-width="1"/>
<text x="36.90" y="526.90" font-size="8.4" text-anchor="end" fill="#3a3a3a">20</text>
<line x1="40.20" y1="509.40" x2="43.20" y2="509.40" stroke="#1c1c1c" stroke-width="1"/>
<text x="36.90" y="512.00" font-size="8.4" text-anchor="end" fill="#3a3a3a">40</text>
<line x1="40.20" y1="494.50" x2="43.20" y2="494.50" stroke="#1c1c1c" stroke-width="1"/>
<text x="36.90" y="497.10" font-size="8.4" text-anchor="end" fill="#3a3a3a">60</text>
<line x1="40.20" y1="479.60" x2="43.20" y2="479.60" stroke="#1c1c1c" stroke-width="1"/>
<text x="36.90" y="482.20" font-size="8.4" text-anchor="end" fill="#3a3a3a">80</text>
<line x1="40.20" y1="464.70" x2="43.20" y2="464.70" stroke="#1c1c1c" stroke-width="1"/>
<text x="36.90" y="467.30" font-size="8.4" text-anchor="end" fill="#3a3a3a">100</text>
<line x1="53.50" y1="539.20" x2="53.50" y2="542.00" stroke="#1c1c1c" stroke-width="1"/>
<text x="53.50" y="553.50" font-size="8.2" text-anchor="middle" fill="#3a3a3a">4</text>
<line x1="74.15" y1="539.20" x2="74.15" y2="542.00" stroke="#1c1c1c" stroke-width="1"/>
<text x="74.15" y="553.50" font-size="8.2" text-anchor="middle" fill="#3a3a3a">8</text>
<line x1="94.80" y1="539.20" x2="94.80" y2="542.00" stroke="#1c1c1c" stroke-width="1"/>
<text x="94.80" y="553.50" font-size="8.2" text-anchor="middle" fill="#3a3a3a">12</text>
<line x1="115.45" y1="539.20" x2="115.45" y2="542.00" stroke="#1c1c1c" stroke-width="1"/>
<text x="115.45" y="553.50" font-size="8.2" text-anchor="middle" fill="#3a3a3a">16</text>
<line x1="136.10" y1="539.20" x2="136.10" y2="542.00" stroke="#1c1c1c" stroke-width="1"/>
<text x="136.10" y="553.50" font-size="8.2" text-anchor="middle" fill="#3a3a3a">20</text>
<text transform="translate(15.60,496.20) rotate(-90)" font-size="8.8" text-anchor="middle" textLength="47.5" lengthAdjust="spacingAndGlyphs" fill="#333" stroke="#333" stroke-width="0.35">Donor cells (%)</text>
<polyline points="53.50,466.41 74.15,465.07 94.80,464.70 115.45,464.70 136.10,464.70" fill="none" stroke="#35204c" stroke-width="1.6" stroke-linejoin="round"/>
<path d="M53.50,465.67V467.16M51.50,465.67H55.50M51.50,467.16H55.50" stroke="#35204c" stroke-width="1.1" fill="none"/>
<circle cx="53.50" cy="466.41" r="1.8" fill="#35204c"/>
<path d="M74.15,464.33V465.82M72.15,464.33H76.15M72.15,465.82H76.15" stroke="#35204c" stroke-width="1.1" fill="none"/>
<circle cx="74.15" cy="465.07" r="1.8" fill="#35204c"/>
<path d="M94.80,463.96V465.45M92.80,463.96H96.80M92.80,465.45H96.80" stroke="#35204c" stroke-width="1.1" fill="none"/>
<circle cx="94.80" cy="464.70" r="1.8" fill="#35204c"/>
<path d="M115.45,463.96V465.45M113.45,463.96H117.45M113.45,465.45H117.45" stroke="#35204c" stroke-width="1.1" fill="none"/>
<circle cx="115.45" cy="464.70" r="1.8" fill="#35204c"/>
<path d="M136.10,463.96V465.45M134.10,463.96H138.10M134.10,465.45H138.10" stroke="#35204c" stroke-width="1.1" fill="none"/>
<circle cx="136.10" cy="464.70" r="1.8" fill="#35204c"/>
<polyline points="53.50,484.82 74.15,484.44 94.80,484.44 115.45,484.44 136.10,483.33" fill="none" stroke="#27477c" stroke-width="1.6" stroke-linejoin="round"/>
<path d="M53.50,482.58V487.05M51.50,482.58H55.50M51.50,487.05H55.50" stroke="#27477c" stroke-width="1.1" fill="none"/>
<rect x="51.90" y="483.22" width="3.2" height="3.2" fill="#27477c"/>
<path d="M74.15,480.72V488.17M72.15,480.72H76.15M72.15,488.17H76.15" stroke="#27477c" stroke-width="1.1" fill="none"/>
<rect x="72.55" y="482.84" width="3.2" height="3.2" fill="#27477c"/>
<path d="M94.80,479.23V489.66M92.80,479.23H96.80M92.80,489.66H96.80" stroke="#27477c" stroke-width="1.1" fill="none"/>
<rect x="93.20" y="482.84" width="3.2" height="3.2" fill="#27477c"/>
<path d="M115.45,479.23V489.66M113.45,479.23H117.45M113.45,489.66H117.45" stroke="#27477c" stroke-width="1.1" fill="none"/>
<rect x="113.85" y="482.84" width="3.2" height="3.2" fill="#27477c"/>
<path d="M136.10,478.86V487.80M134.10,478.86H138.10M134.10,487.80H138.10" stroke="#27477c" stroke-width="1.1" fill="none"/>
<rect x="134.50" y="481.73" width="3.2" height="3.2" fill="#27477c"/>
<polyline points="53.50,494.50 74.15,498.97 94.80,498.97 115.45,500.83 136.10,504.19" fill="none" stroke="#72b24e" stroke-width="1.6" stroke-linejoin="round"/>
<path d="M53.50,488.54V500.46M51.50,488.54H55.50M51.50,500.46H55.50" stroke="#72b24e" stroke-width="1.1" fill="none"/>
<rect x="51.90" y="492.90" width="3.2" height="3.2" fill="#72b24e"/>
<path d="M74.15,490.03V507.91M72.15,490.03H76.15M72.15,507.91H76.15" stroke="#72b24e" stroke-width="1.1" fill="none"/>
<rect x="72.55" y="497.37" width="3.2" height="3.2" fill="#72b24e"/>
<path d="M94.80,491.52V506.42M92.80,491.52H96.80M92.80,506.42H96.80" stroke="#72b24e" stroke-width="1.1" fill="none"/>
<rect x="93.20" y="497.37" width="3.2" height="3.2" fill="#72b24e"/>
<path d="M115.45,492.64V509.03M113.45,492.64H117.45M113.45,509.03H117.45" stroke="#72b24e" stroke-width="1.1" fill="none"/>
<rect x="113.85" y="499.23" width="3.2" height="3.2" fill="#72b24e"/>
<path d="M136.10,495.25V513.13M134.10,495.25H138.10M134.10,513.13H138.10" stroke="#72b24e" stroke-width="1.1" fill="none"/>
<rect x="134.50" y="502.59" width="3.2" height="3.2" fill="#72b24e"/>
<polyline points="53.50,520.20 74.15,527.65 94.80,531.45 115.45,532.57 136.10,534.51" fill="none" stroke="#a8173b" stroke-width="1.6" stroke-linejoin="round"/>
<path d="M53.50,515.73V524.67M51.50,515.73H55.50M51.50,524.67H55.50" stroke="#a8173b" stroke-width="1.1" fill="none"/>
<rect x="51.90" y="518.60" width="3.2" height="3.2" fill="#a8173b"/>
<path d="M74.15,524.67V530.63M72.15,524.67H76.15M72.15,530.63H76.15" stroke="#a8173b" stroke-width="1.1" fill="none"/>
<rect x="72.55" y="526.05" width="3.2" height="3.2" fill="#a8173b"/>
<path d="M94.80,529.22V533.69M92.80,529.22H96.80M92.80,533.69H96.80" stroke="#a8173b" stroke-width="1.1" fill="none"/>
<rect x="93.20" y="529.85" width="3.2" height="3.2" fill="#a8173b"/>
<path d="M115.45,531.08V534.06M113.45,531.08H117.45M113.45,534.06H117.45" stroke="#a8173b" stroke-width="1.1" fill="none"/>
<rect x="113.85" y="530.97" width="3.2" height="3.2" fill="#a8173b"/>
<path d="M136.10,533.76V535.25M134.10,533.76H138.10M134.10,535.25H138.10" stroke="#a8173b" stroke-width="1.1" fill="none"/>
<rect x="134.50" y="532.91" width="3.2" height="3.2" fill="#a8173b"/>
<path d="M144.40,465.10H147.20V482.53H144.40" fill="none" stroke="#1c1c1c" stroke-width="1.35"/>
<rect x="150.45" y="471.41" width="1.9" height="1.9" fill="#1c1c1c"/>
<rect x="150.45" y="474.31" width="1.9" height="1.9" fill="#1c1c1c"/>
<path d="M144.40,484.13H147.20V534.01H144.40" fill="none" stroke="#1c1c1c" stroke-width="1.35"/>
<rect x="150.45" y="505.22" width="1.9" height="1.9" fill="#1c1c1c"/>
<rect x="150.45" y="508.12" width="1.9" height="1.9" fill="#1c1c1c"/>
<rect x="150.45" y="511.02" width="1.9" height="1.9" fill="#1c1c1c"/>
<path d="M153.40,465.10H156.20V503.39H153.40" fill="none" stroke="#1c1c1c" stroke-width="1.35"/>
<rect x="159.45" y="481.84" width="1.9" height="1.9" fill="#1c1c1c"/>
<rect x="159.45" y="484.74" width="1.9" height="1.9" fill="#1c1c1c"/>
<path d="M153.40,504.99H156.20V534.01H153.40" fill="none" stroke="#1c1c1c" stroke-width="1.35"/>
<rect x="159.45" y="518.55" width="1.9" height="1.9" fill="#1c1c1c"/>
<path d="M163.80,465.10H166.60V534.01H163.80" fill="none" stroke="#1c1c1c" stroke-width="1.35"/>
<rect x="169.85" y="495.70" width="1.9" height="1.9" fill="#1c1c1c"/>
<rect x="169.85" y="498.60" width="1.9" height="1.9" fill="#1c1c1c"/>
<rect x="169.85" y="501.50" width="1.9" height="1.9" fill="#1c1c1c"/>
<text x="255.40" y="447.40" font-size="10" text-anchor="middle">CD3<tspan font-size="7.6" dy="-3.7">+</tspan></text>
<path d="M203.80,452.70V539.20H306.80" fill="none" stroke="#1c1c1c" stroke-width="1.5"/>
<line x1="200.80" y1="539.20" x2="203.80" y2="539.20" stroke="#1c1c1c" stroke-width="1"/>
<text x="197.50" y="541.80" font-size="8.4" text-anchor="end" fill="#3a3a3a">0</text>
<line x1="200.80" y1="524.30" x2="203.80" y2="524.30" stroke="#1c1c1c" stroke-width="1"/>
<text x="197.50" y="526.90" font-size="8.4" text-anchor="end" fill="#3a3a3a">20</text>
<line x1="200.80" y1="509.40" x2="203.80" y2="509.40" stroke="#1c1c1c" stroke-width="1"/>
<text x="197.50" y="512.00" font-size="8.4" text-anchor="end" fill="#3a3a3a">40</text>
<line x1="200.80" y1="494.50" x2="203.80" y2="494.50" stroke="#1c1c1c" stroke-width="1"/>
<text x="197.50" y="497.10" font-size="8.4" text-anchor="end" fill="#3a3a3a">60</text>
<line x1="200.80" y1="479.60" x2="203.80" y2="479.60" stroke="#1c1c1c" stroke-width="1"/>
<text x="197.50" y="482.20" font-size="8.4" text-anchor="end" fill="#3a3a3a">80</text>
<line x1="200.80" y1="464.70" x2="203.80" y2="464.70" stroke="#1c1c1c" stroke-width="1"/>
<text x="197.50" y="467.30" font-size="8.4" text-anchor="end" fill="#3a3a3a">100</text>
<line x1="214.10" y1="539.20" x2="214.10" y2="542.00" stroke="#1c1c1c" stroke-width="1"/>
<text x="214.10" y="553.50" font-size="8.2" text-anchor="middle" fill="#3a3a3a">4</text>
<line x1="234.75" y1="539.20" x2="234.75" y2="542.00" stroke="#1c1c1c" stroke-width="1"/>
<text x="234.75" y="553.50" font-size="8.2" text-anchor="middle" fill="#3a3a3a">8</text>
<line x1="255.40" y1="539.20" x2="255.40" y2="542.00" stroke="#1c1c1c" stroke-width="1"/>
<text x="255.40" y="553.50" font-size="8.2" text-anchor="middle" fill="#3a3a3a">12</text>
<line x1="276.05" y1="539.20" x2="276.05" y2="542.00" stroke="#1c1c1c" stroke-width="1"/>
<text x="276.05" y="553.50" font-size="8.2" text-anchor="middle" fill="#3a3a3a">16</text>
<line x1="296.70" y1="539.20" x2="296.70" y2="542.00" stroke="#1c1c1c" stroke-width="1"/>
<text x="296.70" y="553.50" font-size="8.2" text-anchor="middle" fill="#3a3a3a">20</text>
<polyline points="214.10,529.14 234.75,501.21 255.40,494.50 276.05,484.44 296.70,486.68" fill="none" stroke="#35204c" stroke-width="1.6" stroke-linejoin="round"/>
<path d="M214.10,528.40V529.89M212.10,528.40H216.10M212.10,529.89H216.10" stroke="#35204c" stroke-width="1.1" fill="none"/>
<circle cx="214.10" cy="529.14" r="1.8" fill="#35204c"/>
<path d="M234.75,498.97V503.44M232.75,498.97H236.75M232.75,503.44H236.75" stroke="#35204c" stroke-width="1.1" fill="none"/>
<circle cx="234.75" cy="501.21" r="1.8" fill="#35204c"/>
<path d="M255.40,491.52V497.48M253.40,491.52H257.40M253.40,497.48H257.40" stroke="#35204c" stroke-width="1.1" fill="none"/>
<circle cx="255.40" cy="494.50" r="1.8" fill="#35204c"/>
<path d="M276.05,483.70V485.19M274.05,483.70H278.05M274.05,485.19H278.05" stroke="#35204c" stroke-width="1.1" fill="none"/>
<circle cx="276.05" cy="484.44" r="1.8" fill="#35204c"/>
<path d="M296.70,484.44V488.91M294.70,484.44H298.70M294.70,488.91H298.70" stroke="#35204c" stroke-width="1.1" fill="none"/>
<circle cx="296.70" cy="486.68" r="1.8" fill="#35204c"/>
<polyline points="214.10,534.58 234.75,521.10 255.40,514.91 276.05,509.03 296.70,511.64" fill="none" stroke="#27477c" stroke-width="1.6" stroke-linejoin="round"/>
<path d="M214.10,533.84V535.33M212.10,533.84H216.10M212.10,535.33H216.10" stroke="#27477c" stroke-width="1.1" fill="none"/>
<rect x="212.50" y="532.98" width="3.2" height="3.2" fill="#27477c"/>
<path d="M234.75,518.12V524.08M232.75,518.12H236.75M232.75,524.08H236.75" stroke="#27477c" stroke-width="1.1" fill="none"/>
<rect x="233.15" y="519.50" width="3.2" height="3.2" fill="#27477c"/>
<path d="M255.40,510.44V519.38M253.40,510.44H257.40M253.40,519.38H257.40" stroke="#27477c" stroke-width="1.1" fill="none"/>
<rect x="253.80" y="513.31" width="3.2" height="3.2" fill="#27477c"/>
<path d="M276.05,503.81V514.24M274.05,503.81H278.05M274.05,514.24H278.05" stroke="#27477c" stroke-width="1.1" fill="none"/>
<rect x="274.45" y="507.43" width="3.2" height="3.2" fill="#27477c"/>
<path d="M296.70,508.66V514.62M294.70,508.66H298.70M294.70,514.62H298.70" stroke="#27477c" stroke-width="1.1" fill="none"/>
<rect x="295.10" y="510.04" width="3.2" height="3.2" fill="#27477c"/>
<polyline points="214.10,536.52 234.75,525.19 255.40,524.90 276.05,522.07 296.70,519.46" fill="none" stroke="#72b24e" stroke-width="1.6" stroke-linejoin="round"/>
<path d="M214.10,535.77V537.26M212.10,535.77H216.10M212.10,537.26H216.10" stroke="#72b24e" stroke-width="1.1" fill="none"/>
<rect x="212.50" y="534.92" width="3.2" height="3.2" fill="#72b24e"/>
<path d="M234.75,522.96V527.43M232.75,522.96H236.75M232.75,527.43H236.75" stroke="#72b24e" stroke-width="1.1" fill="none"/>
<rect x="233.15" y="523.59" width="3.2" height="3.2" fill="#72b24e"/>
<path d="M255.40,521.92V527.88M253.40,521.92H257.40M253.40,527.88H257.40" stroke="#72b24e" stroke-width="1.1" fill="none"/>
<rect x="253.80" y="523.30" width="3.2" height="3.2" fill="#72b24e"/>
<path d="M276.05,519.09V525.05M274.05,519.09H278.05M274.05,525.05H278.05" stroke="#72b24e" stroke-width="1.1" fill="none"/>
<rect x="274.45" y="520.47" width="3.2" height="3.2" fill="#72b24e"/>
<path d="M296.70,515.73V523.18M294.70,515.73H298.70M294.70,523.18H298.70" stroke="#72b24e" stroke-width="1.1" fill="none"/>
<rect x="295.10" y="517.86" width="3.2" height="3.2" fill="#72b24e"/>
<polyline points="214.10,538.46 234.75,532.50 255.40,533.76 276.05,533.76 296.70,534.58" fill="none" stroke="#a8173b" stroke-width="1.6" stroke-linejoin="round"/>
<path d="M214.10,537.71V539.20M212.10,537.71H216.10M212.10,539.20H216.10" stroke="#a8173b" stroke-width="1.1" fill="none"/>
<rect x="212.50" y="536.86" width="3.2" height="3.2" fill="#a8173b"/>
<path d="M234.75,531.00V533.99M232.75,531.00H236.75M232.75,533.99H236.75" stroke="#a8173b" stroke-width="1.1" fill="none"/>
<rect x="233.15" y="530.89" width="3.2" height="3.2" fill="#a8173b"/>
<path d="M255.40,533.02V534.51M253.40,533.02H257.40M253.40,534.51H257.40" stroke="#a8173b" stroke-width="1.1" fill="none"/>
<rect x="253.80" y="532.16" width="3.2" height="3.2" fill="#a8173b"/>
<path d="M276.05,533.02V534.51M274.05,533.02H278.05M274.05,534.51H278.05" stroke="#a8173b" stroke-width="1.1" fill="none"/>
<rect x="274.45" y="532.16" width="3.2" height="3.2" fill="#a8173b"/>
<path d="M296.70,533.84V535.33M294.70,533.84H298.70M294.70,535.33H298.70" stroke="#a8173b" stroke-width="1.1" fill="none"/>
<rect x="295.10" y="532.98" width="3.2" height="3.2" fill="#a8173b"/>
<path d="M304.90,485.61H307.70V510.84H304.90" fill="none" stroke="#1c1c1c" stroke-width="1.35"/>
<rect x="310.95" y="494.37" width="1.9" height="1.9" fill="#1c1c1c"/>
<rect x="310.95" y="497.27" width="1.9" height="1.9" fill="#1c1c1c"/>
<rect x="310.95" y="500.17" width="1.9" height="1.9" fill="#1c1c1c"/>
<path d="M304.90,512.44H307.70V533.98H304.90" fill="none" stroke="#1c1c1c" stroke-width="1.35"/>
<rect x="310.95" y="519.36" width="1.9" height="1.9" fill="#1c1c1c"/>
<rect x="310.95" y="522.26" width="1.9" height="1.9" fill="#1c1c1c"/>
<rect x="310.95" y="525.16" width="1.9" height="1.9" fill="#1c1c1c"/>
<path d="M314.20,485.61H317.00V518.66H314.20" fill="none" stroke="#1c1c1c" stroke-width="1.35"/>
<rect x="320.25" y="498.28" width="1.9" height="1.9" fill="#1c1c1c"/>
<rect x="320.25" y="501.18" width="1.9" height="1.9" fill="#1c1c1c"/>
<rect x="320.25" y="504.08" width="1.9" height="1.9" fill="#1c1c1c"/>
<path d="M314.20,520.26H317.00V533.98H314.20" fill="none" stroke="#1c1c1c" stroke-width="1.35"/>
<rect x="320.25" y="526.17" width="1.9" height="1.9" fill="#1c1c1c"/>
<path d="M323.50,485.61H326.30V533.98H323.50" fill="none" stroke="#1c1c1c" stroke-width="1.35"/>
<rect x="329.55" y="505.94" width="1.9" height="1.9" fill="#1c1c1c"/>
<rect x="329.55" y="508.84" width="1.9" height="1.9" fill="#1c1c1c"/>
<rect x="329.55" y="511.74" width="1.9" height="1.9" fill="#1c1c1c"/>
<text x="169.6" y="567.2" font-size="9.6" fill="#333" stroke="#333" stroke-width="0.35" text-anchor="middle" textLength="68.5" lengthAdjust="spacingAndGlyphs">Weeks post-transplant</text>
<path d="M386.80,47.80V126.40H513.50" fill="none" stroke="#1c1c1c" stroke-width="1.6"/>
<line x1="383.30" y1="126.40" x2="386.80" y2="126.40" stroke="#1c1c1c" stroke-width="1"/>
<text x="379.50" y="129.30" font-size="8.2" text-anchor="end" fill="#3a3a3a">0</text>
<line x1="383.30" y1="112.68" x2="386.80" y2="112.68" stroke="#1c1c1c" stroke-width="1"/>
<text x="379.50" y="115.58" font-size="8.2" text-anchor="end" fill="#3a3a3a">20</text>
<line x1="383.30" y1="98.96" x2="386.80" y2="98.96" stroke="#1c1c1c" stroke-width="1"/>
<text x="379.50" y="101.86" font-size="8.2" text-anchor="end" fill="#3a3a3a">40</text>
<line x1="383.30" y1="85.24" x2="386.80" y2="85.24" stroke="#1c1c1c" stroke-width="1"/>
<text x="379.50" y="88.14" font-size="8.2" text-anchor="end" fill="#3a3a3a">60</text>
<line x1="383.30" y1="71.52" x2="386.80" y2="71.52" stroke="#1c1c1c" stroke-width="1"/>
<text x="379.50" y="74.42" font-size="8.2" text-anchor="end" fill="#3a3a3a">80</text>
<line x1="383.30" y1="57.80" x2="386.80" y2="57.80" stroke="#1c1c1c" stroke-width="1"/>
<text x="379.50" y="60.70" font-size="8.2" text-anchor="end" fill="#3a3a3a">100</text>
<text transform="translate(358.80,86.70) rotate(-90)" font-size="8.8" text-anchor="middle" textLength="47.5" lengthAdjust="spacingAndGlyphs" fill="#333" stroke="#333" stroke-width="0.35">Donor cells (%)</text>
<path d="M393.00,108.56V103.08M390.90,103.08H395.10" stroke="#2a2a2a" stroke-width="1.25" fill="none"/>
<rect x="390.00" y="108.56" width="6.00" height="17.84" fill="#c1123b"/>
<path d="M399.00,83.18V79.07M396.90,79.07H401.10" stroke="#2a2a2a" stroke-width="1.25" fill="none"/>
<rect x="396.00" y="83.18" width="6.00" height="43.22" fill="#2c5a96"/>
<path d="M405.00,74.95V69.46M402.90,69.46H407.10" stroke="#2a2a2a" stroke-width="1.25" fill="none"/>
<rect x="402.00" y="74.95" width="6.00" height="51.45" fill="#68ae40"/>
<rect x="408.00" y="59.86" width="6.00" height="66.54" fill="#4a226e"/>
<line x1="402.00" y1="126.40" x2="402.00" y2="128.90" stroke="#1c1c1c" stroke-width="1"/>
<text x="402.20" y="140.40" font-size="8.4" text-anchor="middle" fill="#3a3a3a">Total</text>
<path d="M393.00,71.60V68.90H399.00V71.60" fill="none" stroke="#1c1c1c" stroke-width="1.3"/>
<rect x="393.70" y="64.90" width="1.8" height="1.8" fill="#1c1c1c"/>
<rect x="396.50" y="64.90" width="1.8" height="1.8" fill="#1c1c1c"/>
<path d="M393.00,62.70V60.00H405.00V62.70" fill="none" stroke="#1c1c1c" stroke-width="1.3"/>
<rect x="396.70" y="56.00" width="1.8" height="1.8" fill="#1c1c1c"/>
<rect x="399.50" y="56.00" width="1.8" height="1.8" fill="#1c1c1c"/>
<path d="M393.00,53.70V51.00H411.00V53.70" fill="none" stroke="#1c1c1c" stroke-width="1.3"/>
<rect x="398.30" y="47.00" width="1.8" height="1.8" fill="#1c1c1c"/>
<rect x="401.10" y="47.00" width="1.8" height="1.8" fill="#1c1c1c"/>
<rect x="403.90" y="47.00" width="1.8" height="1.8" fill="#1c1c1c"/>
<path d="M399.00,45.10V42.40H411.00V45.10" fill="none" stroke="#1c1c1c" stroke-width="1.3"/>
<rect x="401.30" y="38.40" width="1.8" height="1.8" fill="#1c1c1c"/>
<rect x="404.10" y="38.40" width="1.8" height="1.8" fill="#1c1c1c"/>
<rect x="406.90" y="38.40" width="1.8" height="1.8" fill="#1c1c1c"/>
<path d="M405.00,36.20V33.50H411.00V36.20" fill="none" stroke="#1c1c1c" stroke-width="1.3"/>
<rect x="407.10" y="29.50" width="1.8" height="1.8" fill="#1c1c1c"/>
<path d="M424.40,110.62V106.51M422.30,106.51H426.50" stroke="#2a2a2a" stroke-width="1.25" fill="none"/>
<rect x="421.40" y="110.62" width="6.00" height="15.78" fill="#c1123b"/>
<path d="M430.40,94.84V87.98M428.30,87.98H432.50" stroke="#2a2a2a" stroke-width="1.25" fill="none"/>
<rect x="427.40" y="94.84" width="6.00" height="31.56" fill="#2c5a96"/>
<path d="M436.40,114.74V110.62M434.30,110.62H438.50" stroke="#2a2a2a" stroke-width="1.25" fill="none"/>
<rect x="433.40" y="114.74" width="6.00" height="11.66" fill="#68ae40"/>
<path d="M442.40,92.79V85.93M440.30,85.93H444.50" stroke="#2a2a2a" stroke-width="1.25" fill="none"/>
<rect x="439.40" y="92.79" width="6.00" height="33.61" fill="#4a226e"/>
<line x1="433.40" y1="126.40" x2="433.40" y2="128.90" stroke="#1c1c1c" stroke-width="1"/>
<text x="433.60" y="140.40" font-size="8.4" text-anchor="middle" fill="#3a3a3a">HSC</text>
<path d="M424.40,82.70V80.00H442.40V82.70" fill="none" stroke="#1c1c1c" stroke-width="1.3"/>
<rect x="432.50" y="76.00" width="1.8" height="1.8" fill="#1c1c1c"/>
<path d="M436.40,72.70V70.00H442.40V72.70" fill="none" stroke="#1c1c1c" stroke-width="1.3"/>
<rect x="438.50" y="66.00" width="1.8" height="1.8" fill="#1c1c1c"/>
<path d="M455.80,111.99V106.51M453.70,106.51H457.90" stroke="#2a2a2a" stroke-width="1.25" fill="none"/>
<rect x="452.80" y="111.99" width="6.00" height="14.41" fill="#c1123b"/>
<path d="M461.80,94.84V87.30M459.70,87.30H463.90" stroke="#2a2a2a" stroke-width="1.25" fill="none"/>
<rect x="458.80" y="94.84" width="6.00" height="31.56" fill="#2c5a96"/>
<path d="M467.80,107.88V99.65M465.70,99.65H469.90" stroke="#2a2a2a" stroke-width="1.25" fill="none"/>
<rect x="464.80" y="107.88" width="6.00" height="18.52" fill="#68ae40"/>
<path d="M473.80,85.24V78.38M471.70,78.38H475.90" stroke="#2a2a2a" stroke-width="1.25" fill="none"/>
<rect x="470.80" y="85.24" width="6.00" height="41.16" fill="#4a226e"/>
<line x1="464.80" y1="126.40" x2="464.80" y2="128.90" stroke="#1c1c1c" stroke-width="1"/>
<text x="465.00" y="140.40" font-size="8.4" text-anchor="middle" fill="#3a3a3a">MPP</text>
<path d="M455.80,72.70V70.00H473.80V72.70" fill="none" stroke="#1c1c1c" stroke-width="1.3"/>
<rect x="463.90" y="66.00" width="1.8" height="1.8" fill="#1c1c1c"/>
<path d="M467.80,63.30V60.60H473.80V63.30" fill="none" stroke="#1c1c1c" stroke-width="1.3"/>
<text x="470.80" y="58.20" font-size="8" text-anchor="middle" fill="#444">p=0.05</text>
<path d="M487.40,108.56V103.08M485.30,103.08H489.50" stroke="#2a2a2a" stroke-width="1.25" fill="none"/>
<rect x="484.40" y="108.56" width="6.00" height="17.84" fill="#c1123b"/>
<path d="M493.40,87.98V82.50M491.30,82.50H495.50" stroke="#2a2a2a" stroke-width="1.25" fill="none"/>
<rect x="490.40" y="87.98" width="6.00" height="38.42" fill="#2c5a96"/>
<path d="M499.40,84.55V77.69M497.30,77.69H501.50" stroke="#2a2a2a" stroke-width="1.25" fill="none"/>
<rect x="496.40" y="84.55" width="6.00" height="41.85" fill="#68ae40"/>
<rect x="502.40" y="61.23" width="6.00" height="65.17" fill="#4a226e"/>
<line x1="496.40" y1="126.40" x2="496.40" y2="128.90" stroke="#1c1c1c" stroke-width="1"/>
<text x="496.60" y="140.40" font-size="8.4" text-anchor="middle" fill="#3a3a3a">LSK</text>
<path d="M487.40,73.60V70.90H493.40V73.60" fill="none" stroke="#1c1c1c" stroke-width="1.3"/>
<rect x="489.50" y="66.90" width="1.8" height="1.8" fill="#1c1c1c"/>
<path d="M487.40,64.80V62.10H499.40V64.80" fill="none" stroke="#1c1c1c" stroke-width="1.3"/>
<rect x="492.50" y="58.10" width="1.8" height="1.8" fill="#1c1c1c"/>
<path d="M487.40,56.20V53.50H505.40V56.20" fill="none" stroke="#1c1c1c" stroke-width="1.3"/>
<rect x="492.70" y="49.50" width="1.8" height="1.8" fill="#1c1c1c"/>
<rect x="495.50" y="49.50" width="1.8" height="1.8" fill="#1c1c1c"/>
<rect x="498.30" y="49.50" width="1.8" height="1.8" fill="#1c1c1c"/>
<path d="M493.40,47.40V44.70H505.40V47.40" fill="none" stroke="#1c1c1c" stroke-width="1.3"/>
<rect x="497.10" y="40.70" width="1.8" height="1.8" fill="#1c1c1c"/>
<rect x="499.90" y="40.70" width="1.8" height="1.8" fill="#1c1c1c"/>
<path d="M499.40,38.80V36.10H505.40V38.80" fill="none" stroke="#1c1c1c" stroke-width="1.3"/>
<rect x="501.50" y="32.10" width="1.8" height="1.8" fill="#1c1c1c"/>
<path d="M386.80,177.20V255.80H513.50" fill="none" stroke="#1c1c1c" stroke-width="1.6"/>
<line x1="383.30" y1="255.80" x2="386.80" y2="255.80" stroke="#1c1c1c" stroke-width="1"/>
<text x="379.50" y="258.70" font-size="8.2" text-anchor="end" fill="#3a3a3a">0</text>
<line x1="383.30" y1="242.08" x2="386.80" y2="242.08" stroke="#1c1c1c" stroke-width="1"/>
<text x="379.50" y="244.98" font-size="8.2" text-anchor="end" fill="#3a3a3a">20</text>
<line x1="383.30" y1="228.36" x2="386.80" y2="228.36" stroke="#1c1c1c" stroke-width="1"/>
<text x="379.50" y="231.26" font-size="8.2" text-anchor="end" fill="#3a3a3a">40</text>
<line x1="383.30" y1="214.64" x2="386.80" y2="214.64" stroke="#1c1c1c" stroke-width="1"/>
<text x="379.50" y="217.54" font-size="8.2" text-anchor="end" fill="#3a3a3a">60</text>
<line x1="383.30" y1="200.92" x2="386.80" y2="200.92" stroke="#1c1c1c" stroke-width="1"/>
<text x="379.50" y="203.82" font-size="8.2" text-anchor="end" fill="#3a3a3a">80</text>
<line x1="383.30" y1="187.20" x2="386.80" y2="187.20" stroke="#1c1c1c" stroke-width="1"/>
<text x="379.50" y="190.10" font-size="8.2" text-anchor="end" fill="#3a3a3a">100</text>
<text transform="translate(358.80,216.10) rotate(-90)" font-size="8.8" text-anchor="middle" textLength="47.5" lengthAdjust="spacingAndGlyphs" fill="#333" stroke="#333" stroke-width="0.35">Donor cells (%)</text>
<path d="M393.00,242.08V236.59M390.90,236.59H395.10" stroke="#2a2a2a" stroke-width="1.25" fill="none"/>
<rect x="390.00" y="242.08" width="6.00" height="13.72" fill="#c1123b"/>
<path d="M399.00,214.64V210.52M396.90,210.52H401.10" stroke="#2a2a2a" stroke-width="1.25" fill="none"/>
<rect x="396.00" y="214.64" width="6.00" height="41.16" fill="#2c5a96"/>
<path d="M405.00,205.04V199.55M402.90,199.55H407.10" stroke="#2a2a2a" stroke-width="1.25" fill="none"/>
<rect x="402.00" y="205.04" width="6.00" height="50.76" fill="#68ae40"/>
<rect x="408.00" y="189.26" width="6.00" height="66.54" fill="#4a226e"/>
<line x1="402.00" y1="255.80" x2="402.00" y2="258.30" stroke="#1c1c1c" stroke-width="1"/>
<text x="402.20" y="269.80" font-size="8.4" text-anchor="middle" fill="#3a3a3a">Total</text>
<path d="M393.00,202.90V200.20H399.00V202.90" fill="none" stroke="#1c1c1c" stroke-width="1.3"/>
<rect x="393.70" y="196.20" width="1.8" height="1.8" fill="#1c1c1c"/>
<rect x="396.50" y="196.20" width="1.8" height="1.8" fill="#1c1c1c"/>
<path d="M393.00,193.30V190.60H405.00V193.30" fill="none" stroke="#1c1c1c" stroke-width="1.3"/>
<rect x="395.30" y="186.60" width="1.8" height="1.8" fill="#1c1c1c"/>
<rect x="398.10" y="186.60" width="1.8" height="1.8" fill="#1c1c1c"/>
<rect x="400.90" y="186.60" width="1.8" height="1.8" fill="#1c1c1c"/>
<path d="M393.00,184.40V181.70H411.00V184.40" fill="none" stroke="#1c1c1c" stroke-width="1.3"/>
<rect x="398.30" y="177.70" width="1.8" height="1.8" fill="#1c1c1c"/>
<rect x="401.10" y="177.70" width="1.8" height="1.8" fill="#1c1c1c"/>
<rect x="403.90" y="177.70" width="1.8" height="1.8" fill="#1c1c1c"/>
<path d="M399.00,175.90V173.20H411.00V175.90" fill="none" stroke="#1c1c1c" stroke-width="1.3"/>
<rect x="401.30" y="169.20" width="1.8" height="1.8" fill="#1c1c1c"/>
<rect x="404.10" y="169.20" width="1.8" height="1.8" fill="#1c1c1c"/>
<rect x="406.90" y="169.20" width="1.8" height="1.8" fill="#1c1c1c"/>
<path d="M405.00,166.70V164.00H411.00V166.70" fill="none" stroke="#1c1c1c" stroke-width="1.3"/>
<rect x="407.10" y="160.00" width="1.8" height="1.8" fill="#1c1c1c"/>
<path d="M424.40,238.99V232.82M422.30,232.82H426.50" stroke="#2a2a2a" stroke-width="1.25" fill="none"/>
<rect x="421.40" y="238.99" width="6.00" height="16.81" fill="#c1123b"/>
<path d="M430.40,210.87V206.75M428.30,206.75H432.50" stroke="#2a2a2a" stroke-width="1.25" fill="none"/>
<rect x="427.40" y="210.87" width="6.00" height="44.93" fill="#2c5a96"/>
<path d="M436.40,204.35V197.49M434.30,197.49H438.50" stroke="#2a2a2a" stroke-width="1.25" fill="none"/>
<rect x="433.40" y="204.35" width="6.00" height="51.45" fill="#68ae40"/>
<rect x="439.40" y="187.20" width="6.00" height="68.60" fill="#4a226e"/>
<line x1="433.40" y1="255.80" x2="433.40" y2="258.30" stroke="#1c1c1c" stroke-width="1"/>
<text x="433.60" y="269.80" font-size="8.4" text-anchor="middle" fill="#3a3a3a">Myeloid</text>
<path d="M424.40,200.90V198.20H430.40V200.90" fill="none" stroke="#1c1c1c" stroke-width="1.3"/>
<rect x="425.10" y="194.20" width="1.8" height="1.8" fill="#1c1c1c"/>
<rect x="427.90" y="194.20" width="1.8" height="1.8" fill="#1c1c1c"/>
<path d="M424.40,193.10V190.40H436.40V193.10" fill="none" stroke="#1c1c1c" stroke-width="1.3"/>
<rect x="428.10" y="186.40" width="1.8" height="1.8" fill="#1c1c1c"/>
<rect x="430.90" y="186.40" width="1.8" height="1.8" fill="#1c1c1c"/>
<path d="M424.40,182.90V180.20H442.40V182.90" fill="none" stroke="#1c1c1c" stroke-width="1.3"/>
<rect x="429.70" y="176.20" width="1.8" height="1.8" fill="#1c1c1c"/>
<rect x="432.50" y="176.20" width="1.8" height="1.8" fill="#1c1c1c"/>
<rect x="435.30" y="176.20" width="1.8" height="1.8" fill="#1c1c1c"/>
<path d="M430.40,174.30V171.60H442.40V174.30" fill="none" stroke="#1c1c1c" stroke-width="1.3"/>
<rect x="434.10" y="167.60" width="1.8" height="1.8" fill="#1c1c1c"/>
<rect x="436.90" y="167.60" width="1.8" height="1.8" fill="#1c1c1c"/>
<path d="M436.40,165.10V162.40H442.40V165.10" fill="none" stroke="#1c1c1c" stroke-width="1.3"/>
<text x="439.40" y="160.00" font-size="8" text-anchor="middle" fill="#444">p=0.05</text>
<path d="M455.80,240.30V234.12M453.70,234.12H457.90" stroke="#2a2a2a" stroke-width="1.25" fill="none"/>
<rect x="452.80" y="240.30" width="6.00" height="15.50" fill="#c1123b"/>
<path d="M461.80,212.58V207.78M459.70,207.78H463.90" stroke="#2a2a2a" stroke-width="1.25" fill="none"/>
<rect x="458.80" y="212.58" width="6.00" height="43.22" fill="#2c5a96"/>
<path d="M467.80,201.61V198.86M465.70,198.86H469.90" stroke="#2a2a2a" stroke-width="1.25" fill="none"/>
<rect x="464.80" y="201.61" width="6.00" height="54.19" fill="#68ae40"/>
<rect x="470.80" y="188.57" width="6.00" height="67.23" fill="#4a226e"/>
<line x1="464.80" y1="255.80" x2="464.80" y2="258.30" stroke="#1c1c1c" stroke-width="1"/>
<text x="465.00" y="269.80" font-size="8.4" text-anchor="middle" fill="#3a3a3a">B</text>
<path d="M455.80,200.50V197.80H461.80V200.50" fill="none" stroke="#1c1c1c" stroke-width="1.3"/>
<rect x="456.50" y="193.80" width="1.8" height="1.8" fill="#1c1c1c"/>
<rect x="459.30" y="193.80" width="1.8" height="1.8" fill="#1c1c1c"/>
<path d="M455.80,192.00V189.30H467.80V192.00" fill="none" stroke="#1c1c1c" stroke-width="1.3"/>
<rect x="458.10" y="185.30" width="1.8" height="1.8" fill="#1c1c1c"/>
<rect x="460.90" y="185.30" width="1.8" height="1.8" fill="#1c1c1c"/>
<rect x="463.70" y="185.30" width="1.8" height="1.8" fill="#1c1c1c"/>
<path d="M455.80,183.90V181.20H473.80V183.90" fill="none" stroke="#1c1c1c" stroke-width="1.3"/>
<rect x="461.10" y="177.20" width="1.8" height="1.8" fill="#1c1c1c"/>
<rect x="463.90" y="177.20" width="1.8" height="1.8" fill="#1c1c1c"/>
<rect x="466.70" y="177.20" width="1.8" height="1.8" fill="#1c1c1c"/>
<path d="M461.80,175.30V172.60H473.80V175.30" fill="none" stroke="#1c1c1c" stroke-width="1.3"/>
<rect x="465.50" y="168.60" width="1.8" height="1.8" fill="#1c1c1c"/>
<rect x="468.30" y="168.60" width="1.8" height="1.8" fill="#1c1c1c"/>
<path d="M467.80,166.20V163.50H473.80V166.20" fill="none" stroke="#1c1c1c" stroke-width="1.3"/>
<rect x="468.50" y="159.50" width="1.8" height="1.8" fill="#1c1c1c"/>
<rect x="471.30" y="159.50" width="1.8" height="1.8" fill="#1c1c1c"/>
<path d="M487.40,248.53V246.47M485.30,246.47H489.50" stroke="#2a2a2a" stroke-width="1.25" fill="none"/>
<rect x="484.40" y="248.53" width="6.00" height="7.27" fill="#c1123b"/>
<path d="M493.40,236.80V234.05M491.30,234.05H495.50" stroke="#2a2a2a" stroke-width="1.25" fill="none"/>
<rect x="490.40" y="236.80" width="6.00" height="19.00" fill="#2c5a96"/>
<path d="M499.40,223.56V220.13M497.30,220.13H501.50" stroke="#2a2a2a" stroke-width="1.25" fill="none"/>
<rect x="496.40" y="223.56" width="6.00" height="32.24" fill="#68ae40"/>
<path d="M505.40,200.92V198.86M503.30,198.86H507.50" stroke="#2a2a2a" stroke-width="1.25" fill="none"/>
<rect x="502.40" y="200.92" width="6.00" height="54.88" fill="#4a226e"/>
<line x1="496.40" y1="255.80" x2="496.40" y2="258.30" stroke="#1c1c1c" stroke-width="1"/>
<text x="496.60" y="269.80" font-size="8.4" text-anchor="middle" fill="#3a3a3a">T</text>
<path d="M487.40,209.90V207.20H493.40V209.90" fill="none" stroke="#1c1c1c" stroke-width="1.3"/>
<rect x="488.10" y="203.20" width="1.8" height="1.8" fill="#1c1c1c"/>
<rect x="490.90" y="203.20" width="1.8" height="1.8" fill="#1c1c1c"/>
<path d="M487.40,201.40V198.70H499.40V201.40" fill="none" stroke="#1c1c1c" stroke-width="1.3"/>
<rect x="489.70" y="194.70" width="1.8" height="1.8" fill="#1c1c1c"/>
<rect x="492.50" y="194.70" width="1.8" height="1.8" fill="#1c1c1c"/>
<rect x="495.30" y="194.70" width="1.8" height="1.8" fill="#1c1c1c"/>
<path d="M487.40,193.10V190.40H505.40V193.10" fill="none" stroke="#1c1c1c" stroke-width="1.3"/>
<rect x="492.70" y="186.40" width="1.8" height="1.8" fill="#1c1c1c"/>
<rect x="495.50" y="186.40" width="1.8" height="1.8" fill="#1c1c1c"/>
<rect x="498.30" y="186.40" width="1.8" height="1.8" fill="#1c1c1c"/>
<path d="M493.40,184.70V182.00H505.40V184.70" fill="none" stroke="#1c1c1c" stroke-width="1.3"/>
<rect x="495.70" y="178.00" width="1.8" height="1.8" fill="#1c1c1c"/>
<rect x="498.50" y="178.00" width="1.8" height="1.8" fill="#1c1c1c"/>
<rect x="501.30" y="178.00" width="1.8" height="1.8" fill="#1c1c1c"/>
<path d="M499.40,176.30V173.60H505.40V176.30" fill="none" stroke="#1c1c1c" stroke-width="1.3"/>
<rect x="498.70" y="169.60" width="1.8" height="1.8" fill="#1c1c1c"/>
<rect x="501.50" y="169.60" width="1.8" height="1.8" fill="#1c1c1c"/>
<rect x="504.30" y="169.60" width="1.8" height="1.8" fill="#1c1c1c"/>
<path d="M386.80,331.20V409.80H513.50" fill="none" stroke="#1c1c1c" stroke-width="1.6"/>
<line x1="383.30" y1="409.80" x2="386.80" y2="409.80" stroke="#1c1c1c" stroke-width="1"/>
<text x="379.50" y="412.70" font-size="8.2" text-anchor="end" fill="#3a3a3a">0</text>
<line x1="383.30" y1="396.08" x2="386.80" y2="396.08" stroke="#1c1c1c" stroke-width="1"/>
<text x="379.50" y="398.98" font-size="8.2" text-anchor="end" fill="#3a3a3a">20</text>
<line x1="383.30" y1="382.36" x2="386.80" y2="382.36" stroke="#1c1c1c" stroke-width="1"/>
<text x="379.50" y="385.26" font-size="8.2" text-anchor="end" fill="#3a3a3a">40</text>
<line x1="383.30" y1="368.64" x2="386.80" y2="368.64" stroke="#1c1c1c" stroke-width="1"/>
<text x="379.50" y="371.54" font-size="8.2" text-anchor="end" fill="#3a3a3a">60</text>
<line x1="383.30" y1="354.92" x2="386.80" y2="354.92" stroke="#1c1c1c" stroke-width="1"/>
<text x="379.50" y="357.82" font-size="8.2" text-anchor="end" fill="#3a3a3a">80</text>
<line x1="383.30" y1="341.20" x2="386.80" y2="341.20" stroke="#1c1c1c" stroke-width="1"/>
<text x="379.50" y="344.10" font-size="8.2" text-anchor="end" fill="#3a3a3a">100</text>
<text transform="translate(358.80,370.10) rotate(-90)" font-size="8.8" text-anchor="middle" textLength="47.5" lengthAdjust="spacingAndGlyphs" fill="#333" stroke="#333" stroke-width="0.35">Donor cells (%)</text>
<path d="M393.00,403.35V400.61M390.90,400.61H395.10" stroke="#2a2a2a" stroke-width="1.25" fill="none"/>
<rect x="390.00" y="403.35" width="6.00" height="6.45" fill="#c1123b"/>
<path d="M399.00,380.03V372.48M396.90,372.48H401.10" stroke="#2a2a2a" stroke-width="1.25" fill="none"/>
<rect x="396.00" y="380.03" width="6.00" height="29.77" fill="#2c5a96"/>
<path d="M405.00,387.57V379.34M402.90,379.34H407.10" stroke="#2a2a2a" stroke-width="1.25" fill="none"/>
<rect x="402.00" y="387.57" width="6.00" height="22.23" fill="#68ae40"/>
<rect x="408.00" y="342.91" width="6.00" height="66.88" fill="#4a226e"/>
<line x1="402.00" y1="409.80" x2="402.00" y2="412.30" stroke="#1c1c1c" stroke-width="1"/>
<text x="402.20" y="423.80" font-size="8.4" text-anchor="middle" fill="#3a3a3a">Total</text>
<path d="M393.00,366.20V363.50H399.00V366.20" fill="none" stroke="#1c1c1c" stroke-width="1.3"/>
<rect x="395.10" y="359.50" width="1.8" height="1.8" fill="#1c1c1c"/>
<path d="M393.00,339.00V336.30H411.00V339.00" fill="none" stroke="#1c1c1c" stroke-width="1.3"/>
<rect x="396.90" y="332.30" width="1.8" height="1.8" fill="#1c1c1c"/>
<rect x="399.70" y="332.30" width="1.8" height="1.8" fill="#1c1c1c"/>
<rect x="402.50" y="332.30" width="1.8" height="1.8" fill="#1c1c1c"/>
<rect x="405.30" y="332.30" width="1.8" height="1.8" fill="#1c1c1c"/>
<path d="M399.00,331.20V328.50H411.00V331.20" fill="none" stroke="#1c1c1c" stroke-width="1.3"/>
<rect x="402.70" y="324.50" width="1.8" height="1.8" fill="#1c1c1c"/>
<rect x="405.50" y="324.50" width="1.8" height="1.8" fill="#1c1c1c"/>
<path d="M405.00,322.50V319.80H411.00V322.50" fill="none" stroke="#1c1c1c" stroke-width="1.3"/>
<rect x="404.30" y="315.80" width="1.8" height="1.8" fill="#1c1c1c"/>
<rect x="407.10" y="315.80" width="1.8" height="1.8" fill="#1c1c1c"/>
<rect x="409.90" y="315.80" width="1.8" height="1.8" fill="#1c1c1c"/>
<path d="M424.40,401.22V396.42M422.30,396.42H426.50" stroke="#2a2a2a" stroke-width="1.25" fill="none"/>
<rect x="421.40" y="401.22" width="6.00" height="8.57" fill="#c1123b"/>
<path d="M430.40,378.04V369.12M428.30,369.12H432.50" stroke="#2a2a2a" stroke-width="1.25" fill="none"/>
<rect x="427.40" y="378.04" width="6.00" height="31.76" fill="#2c5a96"/>
<path d="M436.40,384.90V374.61M434.30,374.61H438.50" stroke="#2a2a2a" stroke-width="1.25" fill="none"/>
<rect x="433.40" y="384.90" width="6.00" height="24.90" fill="#68ae40"/>
<rect x="439.40" y="341.20" width="6.00" height="68.60" fill="#4a226e"/>
<line x1="433.40" y1="409.80" x2="433.40" y2="412.30" stroke="#1c1c1c" stroke-width="1"/>
<text x="433.60" y="423.80" font-size="8.4" text-anchor="middle" fill="#3a3a3a">Myeloid</text>
<path d="M424.40,366.20V363.50H430.40V366.20" fill="none" stroke="#1c1c1c" stroke-width="1.3"/>
<rect x="426.50" y="359.50" width="1.8" height="1.8" fill="#1c1c1c"/>
<path d="M424.40,337.70V335.00H442.40V337.70" fill="none" stroke="#1c1c1c" stroke-width="1.3"/>
<rect x="428.30" y="331.00" width="1.8" height="1.8" fill="#1c1c1c"/>
<rect x="431.10" y="331.00" width="1.8" height="1.8" fill="#1c1c1c"/>
<rect x="433.90" y="331.00" width="1.8" height="1.8" fill="#1c1c1c"/>
<rect x="436.70" y="331.00" width="1.8" height="1.8" fill="#1c1c1c"/>
<path d="M430.40,329.00V326.30H442.40V329.00" fill="none" stroke="#1c1c1c" stroke-width="1.3"/>
<rect x="434.10" y="322.30" width="1.8" height="1.8" fill="#1c1c1c"/>
<rect x="436.90" y="322.30" width="1.8" height="1.8" fill="#1c1c1c"/>
<path d="M436.40,320.80V318.10H442.40V320.80" fill="none" stroke="#1c1c1c" stroke-width="1.3"/>
<rect x="437.10" y="314.10" width="1.8" height="1.8" fill="#1c1c1c"/>
<rect x="439.90" y="314.10" width="1.8" height="1.8" fill="#1c1c1c"/>
<path d="M455.80,407.47V406.44M453.70,406.44H457.90" stroke="#2a2a2a" stroke-width="1.25" fill="none"/>
<rect x="452.80" y="407.47" width="6.00" height="2.33" fill="#c1123b"/>
<path d="M461.80,358.35V353.55M459.70,353.55H463.90" stroke="#2a2a2a" stroke-width="1.25" fill="none"/>
<rect x="458.80" y="358.35" width="6.00" height="51.45" fill="#2c5a96"/>
<path d="M467.80,389.01V380.10M465.70,380.10H469.90" stroke="#2a2a2a" stroke-width="1.25" fill="none"/>
<rect x="464.80" y="389.01" width="6.00" height="20.79" fill="#68ae40"/>
<rect x="470.80" y="342.02" width="6.00" height="67.78" fill="#4a226e"/>
<line x1="464.80" y1="409.80" x2="464.80" y2="412.30" stroke="#1c1c1c" stroke-width="1"/>
<text x="465.00" y="423.80" font-size="8.4" text-anchor="middle" fill="#3a3a3a">B</text>
<path d="M455.80,349.70V347.00H461.80V349.70" fill="none" stroke="#1c1c1c" stroke-width="1.3"/>
<rect x="453.70" y="343.00" width="1.8" height="1.8" fill="#1c1c1c"/>
<rect x="456.50" y="343.00" width="1.8" height="1.8" fill="#1c1c1c"/>
<rect x="459.30" y="343.00" width="1.8" height="1.8" fill="#1c1c1c"/>
<rect x="462.10" y="343.00" width="1.8" height="1.8" fill="#1c1c1c"/>
<path d="M455.80,338.90V336.20H473.80V338.90" fill="none" stroke="#1c1c1c" stroke-width="1.3"/>
<rect x="459.70" y="332.20" width="1.8" height="1.8" fill="#1c1c1c"/>
<rect x="462.50" y="332.20" width="1.8" height="1.8" fill="#1c1c1c"/>
<rect x="465.30" y="332.20" width="1.8" height="1.8" fill="#1c1c1c"/>
<rect x="468.10" y="332.20" width="1.8" height="1.8" fill="#1c1c1c"/>
<path d="M461.80,330.60V327.90H473.80V330.60" fill="none" stroke="#1c1c1c" stroke-width="1.3"/>
<rect x="466.90" y="323.90" width="1.8" height="1.8" fill="#1c1c1c"/>
<path d="M467.80,322.50V319.80H473.80V322.50" fill="none" stroke="#1c1c1c" stroke-width="1.3"/>
<rect x="467.10" y="315.80" width="1.8" height="1.8" fill="#1c1c1c"/>
<rect x="469.90" y="315.80" width="1.8" height="1.8" fill="#1c1c1c"/>
<rect x="472.70" y="315.80" width="1.8" height="1.8" fill="#1c1c1c"/>
<path d="M487.40,401.22V396.42M485.30,396.42H489.50" stroke="#2a2a2a" stroke-width="1.25" fill="none"/>
<rect x="484.40" y="401.22" width="6.00" height="8.57" fill="#c1123b"/>
<path d="M493.40,375.50V370.01M491.30,370.01H495.50" stroke="#2a2a2a" stroke-width="1.25" fill="none"/>
<rect x="490.40" y="375.50" width="6.00" height="34.30" fill="#2c5a96"/>
<path d="M499.40,386.82V377.21M497.30,377.21H501.50" stroke="#2a2a2a" stroke-width="1.25" fill="none"/>
<rect x="496.40" y="386.82" width="6.00" height="22.98" fill="#68ae40"/>
<path d="M505.40,352.31V348.20M503.30,348.20H507.50" stroke="#2a2a2a" stroke-width="1.25" fill="none"/>
<rect x="502.40" y="352.31" width="6.00" height="57.49" fill="#4a226e"/>
<line x1="496.40" y1="409.80" x2="496.40" y2="412.30" stroke="#1c1c1c" stroke-width="1"/>
<text x="496.60" y="423.80" font-size="8.4" text-anchor="middle" fill="#3a3a3a">T</text>
<path d="M487.40,367.60V364.90H493.40V367.60" fill="none" stroke="#1c1c1c" stroke-width="1.3"/>
<rect x="488.10" y="360.90" width="1.8" height="1.8" fill="#1c1c1c"/>
<rect x="490.90" y="360.90" width="1.8" height="1.8" fill="#1c1c1c"/>
<path d="M487.40,345.70V343.00H505.40V345.70" fill="none" stroke="#1c1c1c" stroke-width="1.3"/>
<rect x="491.30" y="339.00" width="1.8" height="1.8" fill="#1c1c1c"/>
<rect x="494.10" y="339.00" width="1.8" height="1.8" fill="#1c1c1c"/>
<rect x="496.90" y="339.00" width="1.8" height="1.8" fill="#1c1c1c"/>
<rect x="499.70" y="339.00" width="1.8" height="1.8" fill="#1c1c1c"/>
<path d="M493.40,336.60V333.90H505.40V336.60" fill="none" stroke="#1c1c1c" stroke-width="1.3"/>
<rect x="497.10" y="329.90" width="1.8" height="1.8" fill="#1c1c1c"/>
<rect x="499.90" y="329.90" width="1.8" height="1.8" fill="#1c1c1c"/>
<path d="M499.40,328.60V325.90H505.40V328.60" fill="none" stroke="#1c1c1c" stroke-width="1.3"/>
<rect x="500.10" y="321.90" width="1.8" height="1.8" fill="#1c1c1c"/>
<rect x="502.90" y="321.90" width="1.8" height="1.8" fill="#1c1c1c"/>
<path d="M0.6,0.6H518.9V576.3H0.6Z" fill="none" stroke="#000" stroke-width="1.3"/>
<rect x="518.2" y="0" width="1.8" height="577" fill="#000"/><rect x="0" y="575.4" width="520" height="1.6" fill="#000"/>
</svg></body></html>
